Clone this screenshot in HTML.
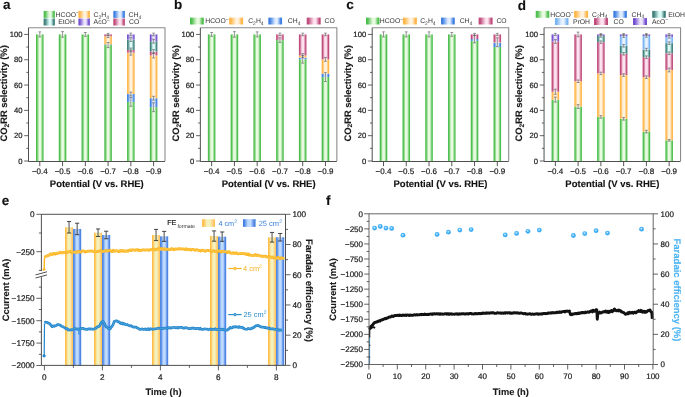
<!DOCTYPE html><html><head><meta charset="utf-8"><title>Figure</title><style>html,body{margin:0;padding:0;background:#fff;}body{width:685px;height:397px;overflow:hidden;}svg{display:block;}body{will-change:transform;font-family:"Liberation Sans",sans-serif;}</style></head><body><svg width="685" height="397" viewBox="0 0 685 397" font-family='"Liberation Sans", sans-serif' text-rendering="geometricPrecision"><defs><linearGradient id="g-green" x1="0" x2="1" y1="0" y2="0"><stop offset="0" stop-color="#4fbf4f"/><stop offset="0.11" stop-color="#4fbf4f"/><stop offset="0.27" stop-color="#9cdd98"/><stop offset="0.4" stop-color="#e8fbe0"/><stop offset="0.62" stop-color="#e8fbe0"/><stop offset="0.76" stop-color="#9cdd98"/><stop offset="0.9" stop-color="#4fbf4f"/><stop offset="1" stop-color="#4fbf4f"/></linearGradient><linearGradient id="s-green" x1="0" x2="1" y1="0" y2="0"><stop offset="0" stop-color="#4fbf4f"/><stop offset="0.12" stop-color="#4fbf4f"/><stop offset="0.5" stop-color="#e8fbe0"/><stop offset="0.66" stop-color="#e8fbe0"/><stop offset="0.9" stop-color="#4fbf4f"/><stop offset="1" stop-color="#4fbf4f"/></linearGradient><linearGradient id="g-orange" x1="0" x2="1" y1="0" y2="0"><stop offset="0" stop-color="#ffb648"/><stop offset="0.11" stop-color="#ffb648"/><stop offset="0.27" stop-color="#ffd494"/><stop offset="0.4" stop-color="#fff3e0"/><stop offset="0.62" stop-color="#fff3e0"/><stop offset="0.76" stop-color="#ffd494"/><stop offset="0.9" stop-color="#ffb648"/><stop offset="1" stop-color="#ffb648"/></linearGradient><linearGradient id="s-orange" x1="0" x2="1" y1="0" y2="0"><stop offset="0" stop-color="#ffb648"/><stop offset="0.12" stop-color="#ffb648"/><stop offset="0.5" stop-color="#fff3e0"/><stop offset="0.66" stop-color="#fff3e0"/><stop offset="0.9" stop-color="#ffb648"/><stop offset="1" stop-color="#ffb648"/></linearGradient><linearGradient id="g-blue" x1="0" x2="1" y1="0" y2="0"><stop offset="0" stop-color="#3f80e2"/><stop offset="0.11" stop-color="#3f80e2"/><stop offset="0.27" stop-color="#90b6f0"/><stop offset="0.4" stop-color="#e0ecff"/><stop offset="0.62" stop-color="#e0ecff"/><stop offset="0.76" stop-color="#90b6f0"/><stop offset="0.9" stop-color="#3f80e2"/><stop offset="1" stop-color="#3f80e2"/></linearGradient><linearGradient id="s-blue" x1="0" x2="1" y1="0" y2="0"><stop offset="0" stop-color="#3f80e2"/><stop offset="0.12" stop-color="#3f80e2"/><stop offset="0.5" stop-color="#e0ecff"/><stop offset="0.66" stop-color="#e0ecff"/><stop offset="0.9" stop-color="#3f80e2"/><stop offset="1" stop-color="#3f80e2"/></linearGradient><linearGradient id="g-crim" x1="0" x2="1" y1="0" y2="0"><stop offset="0" stop-color="#c04c7c"/><stop offset="0.11" stop-color="#c04c7c"/><stop offset="0.27" stop-color="#de98b6"/><stop offset="0.4" stop-color="#fde3ef"/><stop offset="0.62" stop-color="#fde3ef"/><stop offset="0.76" stop-color="#de98b6"/><stop offset="0.9" stop-color="#c04c7c"/><stop offset="1" stop-color="#c04c7c"/></linearGradient><linearGradient id="s-crim" x1="0" x2="1" y1="0" y2="0"><stop offset="0" stop-color="#c04c7c"/><stop offset="0.12" stop-color="#c04c7c"/><stop offset="0.5" stop-color="#fde3ef"/><stop offset="0.66" stop-color="#fde3ef"/><stop offset="0.9" stop-color="#c04c7c"/><stop offset="1" stop-color="#c04c7c"/></linearGradient><linearGradient id="g-teal" x1="0" x2="1" y1="0" y2="0"><stop offset="0" stop-color="#3f7f7a"/><stop offset="0.11" stop-color="#3f7f7a"/><stop offset="0.27" stop-color="#8ebdb9"/><stop offset="0.4" stop-color="#dcfbf8"/><stop offset="0.62" stop-color="#dcfbf8"/><stop offset="0.76" stop-color="#8ebdb9"/><stop offset="0.9" stop-color="#3f7f7a"/><stop offset="1" stop-color="#3f7f7a"/></linearGradient><linearGradient id="s-teal" x1="0" x2="1" y1="0" y2="0"><stop offset="0" stop-color="#3f7f7a"/><stop offset="0.12" stop-color="#3f7f7a"/><stop offset="0.5" stop-color="#dcfbf8"/><stop offset="0.66" stop-color="#dcfbf8"/><stop offset="0.9" stop-color="#3f7f7a"/><stop offset="1" stop-color="#3f7f7a"/></linearGradient><linearGradient id="g-purp" x1="0" x2="1" y1="0" y2="0"><stop offset="0" stop-color="#7450d0"/><stop offset="0.11" stop-color="#7450d0"/><stop offset="0.27" stop-color="#b09ae6"/><stop offset="0.4" stop-color="#ebe4fb"/><stop offset="0.62" stop-color="#ebe4fb"/><stop offset="0.76" stop-color="#b09ae6"/><stop offset="0.9" stop-color="#7450d0"/><stop offset="1" stop-color="#7450d0"/></linearGradient><linearGradient id="s-purp" x1="0" x2="1" y1="0" y2="0"><stop offset="0" stop-color="#7450d0"/><stop offset="0.12" stop-color="#7450d0"/><stop offset="0.5" stop-color="#ebe4fb"/><stop offset="0.66" stop-color="#ebe4fb"/><stop offset="0.9" stop-color="#7450d0"/><stop offset="1" stop-color="#7450d0"/></linearGradient><linearGradient id="g-lblue" x1="0" x2="1" y1="0" y2="0"><stop offset="0" stop-color="#78b4f0"/><stop offset="0.11" stop-color="#78b4f0"/><stop offset="0.27" stop-color="#afd3f8"/><stop offset="0.4" stop-color="#e6f2ff"/><stop offset="0.62" stop-color="#e6f2ff"/><stop offset="0.76" stop-color="#afd3f8"/><stop offset="0.9" stop-color="#78b4f0"/><stop offset="1" stop-color="#78b4f0"/></linearGradient><linearGradient id="s-lblue" x1="0" x2="1" y1="0" y2="0"><stop offset="0" stop-color="#78b4f0"/><stop offset="0.12" stop-color="#78b4f0"/><stop offset="0.5" stop-color="#e6f2ff"/><stop offset="0.66" stop-color="#e6f2ff"/><stop offset="0.9" stop-color="#78b4f0"/><stop offset="1" stop-color="#78b4f0"/></linearGradient><linearGradient id="e-yel" x1="0" x2="1"><stop offset="0" stop-color="#fdbb40"/><stop offset="0.15" stop-color="#ffc45a"/><stop offset="0.35" stop-color="#f5efb5"/><stop offset="0.6" stop-color="#f2f3c0"/><stop offset="0.8" stop-color="#fdd488"/><stop offset="1" stop-color="#ffbf4c"/></linearGradient><linearGradient id="e-blu" x1="0" x2="1"><stop offset="0" stop-color="#3574e0"/><stop offset="0.15" stop-color="#5a90e8"/><stop offset="0.38" stop-color="#bcd8fe"/><stop offset="0.62" stop-color="#c0dcff"/><stop offset="0.85" stop-color="#5a8ce8"/><stop offset="1" stop-color="#3f7ee0"/></linearGradient><radialGradient id="dot" cx="0.45" cy="0.4" r="0.6"><stop offset="0" stop-color="#ffffff"/><stop offset="0.18" stop-color="#9ad6ff"/><stop offset="0.5" stop-color="#45b2f6"/><stop offset="1" stop-color="#38a6ee"/></radialGradient></defs><rect width="685" height="397" fill="#fff"/><rect x="36.00" y="34.40" width="7.6" height="126.60" fill="url(#g-green)"/><rect x="58.76" y="34.40" width="7.6" height="126.60" fill="url(#g-green)"/><rect x="81.52" y="34.40" width="7.6" height="126.60" fill="url(#g-green)"/><rect x="104.28" y="45.03" width="7.6" height="115.97" fill="url(#g-green)"/><rect x="104.28" y="44.40" width="7.6" height="0.63" fill="url(#g-blue)"/><rect x="104.28" y="36.30" width="7.6" height="8.10" fill="url(#g-orange)"/><rect x="104.28" y="34.40" width="7.6" height="1.90" fill="url(#g-crim)"/><rect x="127.04" y="101.88" width="7.6" height="59.12" fill="url(#g-green)"/><rect x="127.04" y="94.03" width="7.6" height="7.85" fill="url(#g-blue)"/><rect x="127.04" y="52.63" width="7.6" height="41.40" fill="url(#g-orange)"/><rect x="127.04" y="49.97" width="7.6" height="2.66" fill="url(#g-crim)"/><rect x="127.04" y="39.59" width="7.6" height="10.38" fill="url(#g-teal)"/><rect x="127.04" y="34.40" width="7.6" height="5.19" fill="url(#g-purp)"/><rect x="149.80" y="107.19" width="7.6" height="53.81" fill="url(#g-green)"/><rect x="149.80" y="98.21" width="7.6" height="8.99" fill="url(#g-blue)"/><rect x="149.80" y="55.42" width="7.6" height="42.79" fill="url(#g-orange)"/><rect x="149.80" y="51.49" width="7.6" height="3.92" fill="url(#g-crim)"/><rect x="149.80" y="41.24" width="7.6" height="10.25" fill="url(#g-teal)"/><rect x="149.80" y="34.40" width="7.6" height="6.84" fill="url(#g-purp)"/><path d="M38.40 31.87H41.20M39.80 31.87V36.93M38.40 36.93H41.20" stroke="#555" stroke-width="0.6" fill="none"/><path d="M61.16 31.61H63.96M62.56 31.61V37.19M61.16 37.19H63.96" stroke="#555" stroke-width="0.6" fill="none"/><path d="M83.92 32.50H86.72M85.32 32.50V36.30M83.92 36.30H86.72" stroke="#555" stroke-width="0.6" fill="none"/><path d="M106.68 42.50H109.48M108.08 42.50V47.57M106.68 47.57H109.48" stroke="#555" stroke-width="0.6" fill="none"/><path d="M106.68 35.03H109.48M108.08 35.03V37.56M106.68 37.56H109.48" stroke="#555" stroke-width="0.6" fill="none"/><path d="M106.68 33.39H109.48M108.08 33.39V35.41M106.68 35.41H109.48" stroke="#555" stroke-width="0.6" fill="none"/><path d="M129.44 97.45H132.24M130.84 97.45V106.31M129.44 106.31H132.24" stroke="#555" stroke-width="0.6" fill="none"/><path d="M129.44 92.13H132.24M130.84 92.13V95.93M129.44 95.93H132.24" stroke="#555" stroke-width="0.6" fill="none"/><path d="M129.44 50.10H132.24M130.84 50.10V55.16M129.44 55.16H132.24" stroke="#555" stroke-width="0.6" fill="none"/><path d="M129.44 48.07H132.24M130.84 48.07V51.87M129.44 51.87H132.24" stroke="#555" stroke-width="0.6" fill="none"/><path d="M129.44 37.69H132.24M130.84 37.69V41.49M129.44 41.49H132.24" stroke="#555" stroke-width="0.6" fill="none"/><path d="M129.44 33.13H132.24M130.84 33.13V35.67M129.44 35.67H132.24" stroke="#555" stroke-width="0.6" fill="none"/><path d="M152.20 102.76H155.00M153.60 102.76V111.63M152.20 111.63H155.00" stroke="#555" stroke-width="0.6" fill="none"/><path d="M152.20 96.31H155.00M153.60 96.31V100.11M152.20 100.11H155.00" stroke="#555" stroke-width="0.6" fill="none"/><path d="M152.20 52.88H155.00M153.60 52.88V57.95M152.20 57.95H155.00" stroke="#555" stroke-width="0.6" fill="none"/><path d="M152.20 49.59H155.00M153.60 49.59V53.39M152.20 53.39H155.00" stroke="#555" stroke-width="0.6" fill="none"/><path d="M152.20 39.34H155.00M153.60 39.34V43.14M152.20 43.14H155.00" stroke="#555" stroke-width="0.6" fill="none"/><path d="M152.20 33.13H155.00M153.60 33.13V35.67M152.20 35.67H155.00" stroke="#555" stroke-width="0.6" fill="none"/><path d="M28.50 27.8H165.00V161.0" stroke="#8c8c8c" stroke-width="1.1" fill="none"/><path d="M28.50 27.8V161.5H165.00" stroke="#3c3c3c" stroke-width="0.9" fill="none"/><path d="M24.20 161.00H28.50" stroke="#3c3c3c" stroke-width="0.8"/><text x="22.50" y="163.70" text-anchor="end" font-size="7.7" fill="#1a1a1a" stroke="#1a1a1a" stroke-width="0.2">0</text><path d="M26.30 148.34H28.50" stroke="#3c3c3c" stroke-width="0.8"/><path d="M24.20 135.68H28.50" stroke="#3c3c3c" stroke-width="0.8"/><text x="22.50" y="138.38" text-anchor="end" font-size="7.7" fill="#1a1a1a" stroke="#1a1a1a" stroke-width="0.2">20</text><path d="M26.30 123.02H28.50" stroke="#3c3c3c" stroke-width="0.8"/><path d="M24.20 110.36H28.50" stroke="#3c3c3c" stroke-width="0.8"/><text x="22.50" y="113.06" text-anchor="end" font-size="7.7" fill="#1a1a1a" stroke="#1a1a1a" stroke-width="0.2">40</text><path d="M26.30 97.70H28.50" stroke="#3c3c3c" stroke-width="0.8"/><path d="M24.20 85.04H28.50" stroke="#3c3c3c" stroke-width="0.8"/><text x="22.50" y="87.74" text-anchor="end" font-size="7.7" fill="#1a1a1a" stroke="#1a1a1a" stroke-width="0.2">60</text><path d="M26.30 72.38H28.50" stroke="#3c3c3c" stroke-width="0.8"/><path d="M24.20 59.72H28.50" stroke="#3c3c3c" stroke-width="0.8"/><text x="22.50" y="62.42" text-anchor="end" font-size="7.7" fill="#1a1a1a" stroke="#1a1a1a" stroke-width="0.2">80</text><path d="M26.30 47.06H28.50" stroke="#3c3c3c" stroke-width="0.8"/><path d="M24.20 34.40H28.50" stroke="#3c3c3c" stroke-width="0.8"/><text x="22.50" y="37.10" text-anchor="end" font-size="7.7" fill="#1a1a1a" stroke="#1a1a1a" stroke-width="0.2">100</text><path d="M39.80 161.5V166.20" stroke="#444" stroke-width="0.9"/><text x="39.80" y="174.1" text-anchor="middle" font-size="8.0" fill="#1a1a1a" stroke="#1a1a1a" stroke-width="0.2">−0.4</text><path d="M62.56 161.5V166.20" stroke="#444" stroke-width="0.9"/><text x="62.56" y="174.1" text-anchor="middle" font-size="8.0" fill="#1a1a1a" stroke="#1a1a1a" stroke-width="0.2">−0.5</text><path d="M85.32 161.5V166.20" stroke="#444" stroke-width="0.9"/><text x="85.32" y="174.1" text-anchor="middle" font-size="8.0" fill="#1a1a1a" stroke="#1a1a1a" stroke-width="0.2">−0.6</text><path d="M108.08 161.5V166.20" stroke="#444" stroke-width="0.9"/><text x="108.08" y="174.1" text-anchor="middle" font-size="8.0" fill="#1a1a1a" stroke="#1a1a1a" stroke-width="0.2">−0.7</text><path d="M130.84 161.5V166.20" stroke="#444" stroke-width="0.9"/><text x="130.84" y="174.1" text-anchor="middle" font-size="8.0" fill="#1a1a1a" stroke="#1a1a1a" stroke-width="0.2">−0.8</text><path d="M153.60 161.5V166.20" stroke="#444" stroke-width="0.9"/><text x="153.60" y="174.1" text-anchor="middle" font-size="8.0" fill="#1a1a1a" stroke="#1a1a1a" stroke-width="0.2">−0.9</text><text x="96.80" y="187.0" text-anchor="middle" font-size="9.5" font-weight="bold" fill="#111" stroke="#111" stroke-width="0.12">Potential (V vs. RHE)</text><text transform="translate(6.90,93.4) rotate(-90)" text-anchor="middle" font-size="9.4" font-weight="bold" fill="#1a1a1a" stroke="#1a1a1a" stroke-width="0.12">CO<tspan dy="1.8" font-size="6.6">2</tspan><tspan dy="-1.8">RR selectivity (%)</tspan></text><rect x="43.6" y="10.9" width="11.3" height="7.0" fill="url(#s-green)"/><text class="nb" x="55.6" y="16.60" font-size="6.8" fill="#333">HCOO<tspan dy="-2.3" font-size="5">−</tspan></text><rect x="43.6" y="18.5" width="11.3" height="7.0" fill="url(#s-teal)"/><text class="nb" x="58.2" y="24.20" font-size="6.8" fill="#333">EtOH</text><rect x="78.4" y="10.9" width="11.5" height="7.0" fill="url(#s-orange)"/><text class="nb" x="93.6" y="16.60" font-size="6.8" fill="#333">C<tspan dy="1.9" font-size="5">2</tspan><tspan dy="-1.9">H</tspan><tspan dy="1.9" font-size="5">4</tspan></text><rect x="78.4" y="18.5" width="11.5" height="7.0" fill="url(#s-purp)"/><text class="nb" x="93.6" y="24.20" font-size="6.8" fill="#333">AcO<tspan dy="-2.3" font-size="5">−</tspan></text><rect x="113.3" y="10.9" width="11.6" height="7.0" fill="url(#s-blue)"/><text class="nb" x="128.6" y="16.60" font-size="6.8" fill="#333">CH<tspan dy="1.9" font-size="5">4</tspan></text><rect x="113.3" y="18.5" width="11.6" height="7.0" fill="url(#s-crim)"/><text class="nb" x="129.0" y="24.20" font-size="6.8" fill="#333">CO</text><rect x="207.85" y="34.40" width="7.6" height="126.60" fill="url(#g-green)"/><rect x="230.61" y="34.40" width="7.6" height="126.60" fill="url(#g-green)"/><rect x="253.37" y="34.40" width="7.6" height="126.60" fill="url(#g-green)"/><rect x="276.13" y="40.10" width="7.6" height="120.90" fill="url(#g-green)"/><rect x="276.13" y="34.40" width="7.6" height="5.70" fill="url(#g-crim)"/><rect x="298.89" y="59.34" width="7.6" height="101.66" fill="url(#g-green)"/><rect x="298.89" y="57.69" width="7.6" height="1.65" fill="url(#g-blue)"/><rect x="298.89" y="55.54" width="7.6" height="2.15" fill="url(#g-orange)"/><rect x="298.89" y="34.40" width="7.6" height="21.14" fill="url(#g-crim)"/><rect x="321.65" y="77.06" width="7.6" height="83.94" fill="url(#g-green)"/><rect x="321.65" y="73.65" width="7.6" height="3.42" fill="url(#g-blue)"/><rect x="321.65" y="59.34" width="7.6" height="14.31" fill="url(#g-orange)"/><rect x="321.65" y="34.40" width="7.6" height="24.94" fill="url(#g-crim)"/><path d="M210.25 32.50H213.05M211.65 32.50V36.30M210.25 36.30H213.05" stroke="#555" stroke-width="0.6" fill="none"/><path d="M233.01 31.61H235.81M234.41 31.61V37.19M233.01 37.19H235.81" stroke="#555" stroke-width="0.6" fill="none"/><path d="M255.77 31.87H258.57M257.17 31.87V36.93M255.77 36.93H258.57" stroke="#555" stroke-width="0.6" fill="none"/><path d="M278.53 37.82H281.33M279.93 37.82V42.38M278.53 42.38H281.33" stroke="#555" stroke-width="0.6" fill="none"/><path d="M278.53 33.13H281.33M279.93 33.13V35.67M278.53 35.67H281.33" stroke="#555" stroke-width="0.6" fill="none"/><path d="M301.29 55.54H304.09M302.69 55.54V63.14M301.29 63.14H304.09" stroke="#555" stroke-width="0.6" fill="none"/><path d="M301.29 53.64H304.09M302.69 53.64V57.44M301.29 57.44H304.09" stroke="#555" stroke-width="0.6" fill="none"/><path d="M301.29 33.13H304.09M302.69 33.13V35.67M301.29 35.67H304.09" stroke="#555" stroke-width="0.6" fill="none"/><path d="M324.05 72.63H326.85M325.45 72.63V81.50M324.05 81.50H326.85" stroke="#555" stroke-width="0.6" fill="none"/><path d="M324.05 57.44H326.85M325.45 57.44V61.24M324.05 61.24H326.85" stroke="#555" stroke-width="0.6" fill="none"/><path d="M324.05 33.13H326.85M325.45 33.13V35.67M324.05 35.67H326.85" stroke="#555" stroke-width="0.6" fill="none"/><path d="M200.35 27.8H336.85V161.0" stroke="#8c8c8c" stroke-width="1.1" fill="none"/><path d="M200.35 27.8V161.5H336.85" stroke="#3c3c3c" stroke-width="0.9" fill="none"/><path d="M196.05 161.00H200.35" stroke="#3c3c3c" stroke-width="0.8"/><text x="194.35" y="163.70" text-anchor="end" font-size="7.7" fill="#1a1a1a" stroke="#1a1a1a" stroke-width="0.2">0</text><path d="M198.15 148.34H200.35" stroke="#3c3c3c" stroke-width="0.8"/><path d="M196.05 135.68H200.35" stroke="#3c3c3c" stroke-width="0.8"/><text x="194.35" y="138.38" text-anchor="end" font-size="7.7" fill="#1a1a1a" stroke="#1a1a1a" stroke-width="0.2">20</text><path d="M198.15 123.02H200.35" stroke="#3c3c3c" stroke-width="0.8"/><path d="M196.05 110.36H200.35" stroke="#3c3c3c" stroke-width="0.8"/><text x="194.35" y="113.06" text-anchor="end" font-size="7.7" fill="#1a1a1a" stroke="#1a1a1a" stroke-width="0.2">40</text><path d="M198.15 97.70H200.35" stroke="#3c3c3c" stroke-width="0.8"/><path d="M196.05 85.04H200.35" stroke="#3c3c3c" stroke-width="0.8"/><text x="194.35" y="87.74" text-anchor="end" font-size="7.7" fill="#1a1a1a" stroke="#1a1a1a" stroke-width="0.2">60</text><path d="M198.15 72.38H200.35" stroke="#3c3c3c" stroke-width="0.8"/><path d="M196.05 59.72H200.35" stroke="#3c3c3c" stroke-width="0.8"/><text x="194.35" y="62.42" text-anchor="end" font-size="7.7" fill="#1a1a1a" stroke="#1a1a1a" stroke-width="0.2">80</text><path d="M198.15 47.06H200.35" stroke="#3c3c3c" stroke-width="0.8"/><path d="M196.05 34.40H200.35" stroke="#3c3c3c" stroke-width="0.8"/><text x="194.35" y="37.10" text-anchor="end" font-size="7.7" fill="#1a1a1a" stroke="#1a1a1a" stroke-width="0.2">100</text><path d="M211.65 161.5V166.20" stroke="#444" stroke-width="0.9"/><text x="211.65" y="174.1" text-anchor="middle" font-size="8.0" fill="#1a1a1a" stroke="#1a1a1a" stroke-width="0.2">−0.4</text><path d="M234.41 161.5V166.20" stroke="#444" stroke-width="0.9"/><text x="234.41" y="174.1" text-anchor="middle" font-size="8.0" fill="#1a1a1a" stroke="#1a1a1a" stroke-width="0.2">−0.5</text><path d="M257.17 161.5V166.20" stroke="#444" stroke-width="0.9"/><text x="257.17" y="174.1" text-anchor="middle" font-size="8.0" fill="#1a1a1a" stroke="#1a1a1a" stroke-width="0.2">−0.6</text><path d="M279.93 161.5V166.20" stroke="#444" stroke-width="0.9"/><text x="279.93" y="174.1" text-anchor="middle" font-size="8.0" fill="#1a1a1a" stroke="#1a1a1a" stroke-width="0.2">−0.7</text><path d="M302.69 161.5V166.20" stroke="#444" stroke-width="0.9"/><text x="302.69" y="174.1" text-anchor="middle" font-size="8.0" fill="#1a1a1a" stroke="#1a1a1a" stroke-width="0.2">−0.8</text><path d="M325.45 161.5V166.20" stroke="#444" stroke-width="0.9"/><text x="325.45" y="174.1" text-anchor="middle" font-size="8.0" fill="#1a1a1a" stroke="#1a1a1a" stroke-width="0.2">−0.9</text><text x="268.65" y="187.0" text-anchor="middle" font-size="9.5" font-weight="bold" fill="#111" stroke="#111" stroke-width="0.12">Potential (V vs. RHE)</text><text transform="translate(178.75,93.4) rotate(-90)" text-anchor="middle" font-size="9.4" font-weight="bold" fill="#1a1a1a" stroke="#1a1a1a" stroke-width="0.12">CO<tspan dy="1.8" font-size="6.6">2</tspan><tspan dy="-1.8">RR selectivity (%)</tspan></text><rect x="190.0" y="17.6" width="13.8" height="6.9" fill="url(#s-green)"/><text class="nb" x="205.3" y="23.20" font-size="6.8" fill="#333">HCOO<tspan dy="-2.3" font-size="5">−</tspan></text><rect x="229.1" y="17.6" width="14.0" height="6.9" fill="url(#s-orange)"/><text class="nb" x="248.2" y="23.20" font-size="6.8" fill="#333">C<tspan dy="1.9" font-size="5">2</tspan><tspan dy="-1.9">H</tspan><tspan dy="1.9" font-size="5">4</tspan></text><rect x="268.3" y="17.6" width="13.8" height="6.9" fill="url(#s-blue)"/><text class="nb" x="287.8" y="23.20" font-size="6.8" fill="#333">CH<tspan dy="1.9" font-size="5">4</tspan></text><rect x="306.7" y="17.6" width="14.0" height="6.9" fill="url(#s-crim)"/><text class="nb" x="324.6" y="23.20" font-size="6.8" fill="#333">CO</text><rect x="379.70" y="34.40" width="7.6" height="126.60" fill="url(#g-green)"/><rect x="402.46" y="34.40" width="7.6" height="126.60" fill="url(#g-green)"/><rect x="425.22" y="34.40" width="7.6" height="126.60" fill="url(#g-green)"/><rect x="447.98" y="34.40" width="7.6" height="126.60" fill="url(#g-green)"/><rect x="470.74" y="40.73" width="7.6" height="120.27" fill="url(#g-green)"/><rect x="470.74" y="39.08" width="7.6" height="1.65" fill="url(#g-blue)"/><rect x="470.74" y="34.40" width="7.6" height="4.68" fill="url(#g-crim)"/><rect x="493.50" y="47.06" width="7.6" height="113.94" fill="url(#g-green)"/><rect x="493.50" y="42.63" width="7.6" height="4.43" fill="url(#g-blue)"/><rect x="493.50" y="42.25" width="7.6" height="0.38" fill="url(#g-orange)"/><rect x="493.50" y="34.40" width="7.6" height="7.85" fill="url(#g-crim)"/><path d="M382.10 31.87H384.90M383.50 31.87V36.93M382.10 36.93H384.90" stroke="#555" stroke-width="0.6" fill="none"/><path d="M404.86 31.87H407.66M406.26 31.87V36.93M404.86 36.93H407.66" stroke="#555" stroke-width="0.6" fill="none"/><path d="M427.62 31.87H430.42M429.02 31.87V36.93M427.62 36.93H430.42" stroke="#555" stroke-width="0.6" fill="none"/><path d="M450.38 32.50H453.18M451.78 32.50V36.30M450.38 36.30H453.18" stroke="#555" stroke-width="0.6" fill="none"/><path d="M473.14 35.29H475.94M474.54 35.29V42.88M473.14 42.88H475.94" stroke="#555" stroke-width="0.6" fill="none"/><path d="M473.14 33.39H475.94M474.54 33.39V35.41M473.14 35.41H475.94" stroke="#555" stroke-width="0.6" fill="none"/><path d="M495.90 37.82H498.70M497.30 37.82V46.68M495.90 46.68H498.70" stroke="#555" stroke-width="0.6" fill="none"/><path d="M495.90 33.39H498.70M497.30 33.39V35.41M495.90 35.41H498.70" stroke="#555" stroke-width="0.6" fill="none"/><path d="M372.20 27.8H508.70V161.0" stroke="#8c8c8c" stroke-width="1.1" fill="none"/><path d="M372.20 27.8V161.5H508.70" stroke="#3c3c3c" stroke-width="0.9" fill="none"/><path d="M367.90 161.00H372.20" stroke="#3c3c3c" stroke-width="0.8"/><text x="366.20" y="163.70" text-anchor="end" font-size="7.7" fill="#1a1a1a" stroke="#1a1a1a" stroke-width="0.2">0</text><path d="M370.00 148.34H372.20" stroke="#3c3c3c" stroke-width="0.8"/><path d="M367.90 135.68H372.20" stroke="#3c3c3c" stroke-width="0.8"/><text x="366.20" y="138.38" text-anchor="end" font-size="7.7" fill="#1a1a1a" stroke="#1a1a1a" stroke-width="0.2">20</text><path d="M370.00 123.02H372.20" stroke="#3c3c3c" stroke-width="0.8"/><path d="M367.90 110.36H372.20" stroke="#3c3c3c" stroke-width="0.8"/><text x="366.20" y="113.06" text-anchor="end" font-size="7.7" fill="#1a1a1a" stroke="#1a1a1a" stroke-width="0.2">40</text><path d="M370.00 97.70H372.20" stroke="#3c3c3c" stroke-width="0.8"/><path d="M367.90 85.04H372.20" stroke="#3c3c3c" stroke-width="0.8"/><text x="366.20" y="87.74" text-anchor="end" font-size="7.7" fill="#1a1a1a" stroke="#1a1a1a" stroke-width="0.2">60</text><path d="M370.00 72.38H372.20" stroke="#3c3c3c" stroke-width="0.8"/><path d="M367.90 59.72H372.20" stroke="#3c3c3c" stroke-width="0.8"/><text x="366.20" y="62.42" text-anchor="end" font-size="7.7" fill="#1a1a1a" stroke="#1a1a1a" stroke-width="0.2">80</text><path d="M370.00 47.06H372.20" stroke="#3c3c3c" stroke-width="0.8"/><path d="M367.90 34.40H372.20" stroke="#3c3c3c" stroke-width="0.8"/><text x="366.20" y="37.10" text-anchor="end" font-size="7.7" fill="#1a1a1a" stroke="#1a1a1a" stroke-width="0.2">100</text><path d="M383.50 161.5V166.20" stroke="#444" stroke-width="0.9"/><text x="383.50" y="174.1" text-anchor="middle" font-size="8.0" fill="#1a1a1a" stroke="#1a1a1a" stroke-width="0.2">−0.4</text><path d="M406.26 161.5V166.20" stroke="#444" stroke-width="0.9"/><text x="406.26" y="174.1" text-anchor="middle" font-size="8.0" fill="#1a1a1a" stroke="#1a1a1a" stroke-width="0.2">−0.5</text><path d="M429.02 161.5V166.20" stroke="#444" stroke-width="0.9"/><text x="429.02" y="174.1" text-anchor="middle" font-size="8.0" fill="#1a1a1a" stroke="#1a1a1a" stroke-width="0.2">−0.6</text><path d="M451.78 161.5V166.20" stroke="#444" stroke-width="0.9"/><text x="451.78" y="174.1" text-anchor="middle" font-size="8.0" fill="#1a1a1a" stroke="#1a1a1a" stroke-width="0.2">−0.7</text><path d="M474.54 161.5V166.20" stroke="#444" stroke-width="0.9"/><text x="474.54" y="174.1" text-anchor="middle" font-size="8.0" fill="#1a1a1a" stroke="#1a1a1a" stroke-width="0.2">−0.8</text><path d="M497.30 161.5V166.20" stroke="#444" stroke-width="0.9"/><text x="497.30" y="174.1" text-anchor="middle" font-size="8.0" fill="#1a1a1a" stroke="#1a1a1a" stroke-width="0.2">−0.9</text><text x="440.50" y="187.0" text-anchor="middle" font-size="9.5" font-weight="bold" fill="#111" stroke="#111" stroke-width="0.12">Potential (V vs. RHE)</text><text transform="translate(350.60,93.4) rotate(-90)" text-anchor="middle" font-size="9.4" font-weight="bold" fill="#1a1a1a" stroke="#1a1a1a" stroke-width="0.12">CO<tspan dy="1.8" font-size="6.6">2</tspan><tspan dy="-1.8">RR selectivity (%)</tspan></text><rect x="366.0" y="17.6" width="13.5" height="6.9" fill="url(#s-green)"/><text class="nb" x="379.8" y="23.20" font-size="6.8" fill="#333">HCOO<tspan dy="-2.3" font-size="5">−</tspan></text><rect x="402.9" y="17.6" width="14.0" height="6.9" fill="url(#s-orange)"/><text class="nb" x="420.2" y="23.20" font-size="6.8" fill="#333">C<tspan dy="1.9" font-size="5">2</tspan><tspan dy="-1.9">H</tspan><tspan dy="1.9" font-size="5">4</tspan></text><rect x="441.0" y="17.6" width="13.8" height="6.9" fill="url(#s-blue)"/><text class="nb" x="459.7" y="23.20" font-size="6.8" fill="#333">CH<tspan dy="1.9" font-size="5">4</tspan></text><rect x="478.6" y="17.6" width="14.0" height="6.9" fill="url(#s-crim)"/><text class="nb" x="496.4" y="23.20" font-size="6.8" fill="#333">CO</text><rect x="551.55" y="99.60" width="7.6" height="61.40" fill="url(#g-green)"/><rect x="551.55" y="91.75" width="7.6" height="7.85" fill="url(#g-orange)"/><rect x="551.55" y="41.49" width="7.6" height="50.26" fill="url(#g-crim)"/><rect x="551.55" y="34.40" width="7.6" height="7.09" fill="url(#g-purp)"/><rect x="574.31" y="106.56" width="7.6" height="54.44" fill="url(#g-green)"/><rect x="574.31" y="81.24" width="7.6" height="25.32" fill="url(#g-orange)"/><rect x="574.31" y="34.40" width="7.6" height="46.84" fill="url(#g-crim)"/><rect x="597.07" y="116.94" width="7.6" height="44.06" fill="url(#g-green)"/><rect x="597.07" y="73.39" width="7.6" height="43.55" fill="url(#g-orange)"/><rect x="597.07" y="42.12" width="7.6" height="31.27" fill="url(#g-crim)"/><rect x="597.07" y="35.92" width="7.6" height="6.20" fill="url(#g-teal)"/><rect x="597.07" y="34.40" width="7.6" height="1.52" fill="url(#g-purp)"/><rect x="619.83" y="118.84" width="7.6" height="42.16" fill="url(#g-green)"/><rect x="619.83" y="75.04" width="7.6" height="43.80" fill="url(#g-orange)"/><rect x="619.83" y="53.77" width="7.6" height="21.27" fill="url(#g-crim)"/><rect x="619.83" y="45.79" width="7.6" height="7.98" fill="url(#g-teal)"/><rect x="619.83" y="36.17" width="7.6" height="9.62" fill="url(#g-lblue)"/><rect x="619.83" y="34.40" width="7.6" height="1.77" fill="url(#g-purp)"/><rect x="642.59" y="131.63" width="7.6" height="29.37" fill="url(#g-green)"/><rect x="642.59" y="77.19" width="7.6" height="54.44" fill="url(#g-orange)"/><rect x="642.59" y="57.19" width="7.6" height="20.00" fill="url(#g-crim)"/><rect x="642.59" y="49.59" width="7.6" height="7.60" fill="url(#g-teal)"/><rect x="642.59" y="35.92" width="7.6" height="13.67" fill="url(#g-lblue)"/><rect x="642.59" y="34.40" width="7.6" height="1.52" fill="url(#g-purp)"/><rect x="665.35" y="140.36" width="7.6" height="20.64" fill="url(#g-green)"/><rect x="665.35" y="69.97" width="7.6" height="70.39" fill="url(#g-orange)"/><rect x="665.35" y="53.26" width="7.6" height="16.71" fill="url(#g-crim)"/><rect x="665.35" y="43.14" width="7.6" height="10.13" fill="url(#g-teal)"/><rect x="665.35" y="36.93" width="7.6" height="6.20" fill="url(#g-lblue)"/><rect x="665.35" y="34.40" width="7.6" height="2.53" fill="url(#g-purp)"/><path d="M553.95 97.07H556.75M555.35 97.07V102.13M553.95 102.13H556.75" stroke="#555" stroke-width="0.6" fill="none"/><path d="M553.95 89.22H556.75M555.35 89.22V94.28M553.95 94.28H556.75" stroke="#555" stroke-width="0.6" fill="none"/><path d="M553.95 39.59H556.75M555.35 39.59V43.39M553.95 43.39H556.75" stroke="#555" stroke-width="0.6" fill="none"/><path d="M553.95 33.39H556.75M555.35 33.39V35.41M553.95 35.41H556.75" stroke="#555" stroke-width="0.6" fill="none"/><path d="M576.71 104.66H579.51M578.11 104.66V108.46M576.71 108.46H579.51" stroke="#555" stroke-width="0.6" fill="none"/><path d="M576.71 79.98H579.51M578.11 79.98V82.51M576.71 82.51H579.51" stroke="#555" stroke-width="0.6" fill="none"/><path d="M576.71 32.12H579.51M578.11 32.12V36.68M576.71 36.68H579.51" stroke="#555" stroke-width="0.6" fill="none"/><path d="M599.47 115.68H602.27M600.87 115.68V118.21M599.47 118.21H602.27" stroke="#555" stroke-width="0.6" fill="none"/><path d="M599.47 72.13H602.27M600.87 72.13V74.66M599.47 74.66H602.27" stroke="#555" stroke-width="0.6" fill="none"/><path d="M599.47 40.86H602.27M600.87 40.86V43.39M599.47 43.39H602.27" stroke="#555" stroke-width="0.6" fill="none"/><path d="M599.47 34.65H602.27M600.87 34.65V37.19M599.47 37.19H602.27" stroke="#555" stroke-width="0.6" fill="none"/><path d="M599.47 33.64H602.27M600.87 33.64V35.16M599.47 35.16H602.27" stroke="#555" stroke-width="0.6" fill="none"/><path d="M622.23 117.58H625.03M623.63 117.58V120.11M622.23 120.11H625.03" stroke="#555" stroke-width="0.6" fill="none"/><path d="M622.23 73.77H625.03M623.63 73.77V76.30M622.23 76.30H625.03" stroke="#555" stroke-width="0.6" fill="none"/><path d="M622.23 52.50H625.03M623.63 52.50V55.04M622.23 55.04H625.03" stroke="#555" stroke-width="0.6" fill="none"/><path d="M622.23 44.53H625.03M623.63 44.53V47.06M622.23 47.06H625.03" stroke="#555" stroke-width="0.6" fill="none"/><path d="M622.23 34.91H625.03M623.63 34.91V37.44M622.23 37.44H625.03" stroke="#555" stroke-width="0.6" fill="none"/><path d="M622.23 33.64H625.03M623.63 33.64V35.16M622.23 35.16H625.03" stroke="#555" stroke-width="0.6" fill="none"/><path d="M644.99 130.36H647.79M646.39 130.36V132.89M644.99 132.89H647.79" stroke="#555" stroke-width="0.6" fill="none"/><path d="M644.99 75.92H647.79M646.39 75.92V78.46M644.99 78.46H647.79" stroke="#555" stroke-width="0.6" fill="none"/><path d="M644.99 55.92H647.79M646.39 55.92V58.45M644.99 58.45H647.79" stroke="#555" stroke-width="0.6" fill="none"/><path d="M644.99 48.33H647.79M646.39 48.33V50.86M644.99 50.86H647.79" stroke="#555" stroke-width="0.6" fill="none"/><path d="M644.99 34.65H647.79M646.39 34.65V37.19M644.99 37.19H647.79" stroke="#555" stroke-width="0.6" fill="none"/><path d="M644.99 33.64H647.79M646.39 33.64V35.16M644.99 35.16H647.79" stroke="#555" stroke-width="0.6" fill="none"/><path d="M667.75 139.60H670.55M669.15 139.60V141.12M667.75 141.12H670.55" stroke="#555" stroke-width="0.6" fill="none"/><path d="M667.75 68.08H670.55M669.15 68.08V71.87M667.75 71.87H670.55" stroke="#555" stroke-width="0.6" fill="none"/><path d="M667.75 52.00H670.55M669.15 52.00V54.53M667.75 54.53H670.55" stroke="#555" stroke-width="0.6" fill="none"/><path d="M667.75 41.87H670.55M669.15 41.87V44.40M667.75 44.40H670.55" stroke="#555" stroke-width="0.6" fill="none"/><path d="M667.75 35.67H670.55M669.15 35.67V38.20M667.75 38.20H670.55" stroke="#555" stroke-width="0.6" fill="none"/><path d="M667.75 33.64H670.55M669.15 33.64V35.16M667.75 35.16H670.55" stroke="#555" stroke-width="0.6" fill="none"/><path d="M544.05 27.8H680.55V161.0" stroke="#8c8c8c" stroke-width="1.1" fill="none"/><path d="M544.05 27.8V161.5H680.55" stroke="#3c3c3c" stroke-width="0.9" fill="none"/><path d="M539.75 161.00H544.05" stroke="#3c3c3c" stroke-width="0.8"/><text x="538.05" y="163.70" text-anchor="end" font-size="7.7" fill="#1a1a1a" stroke="#1a1a1a" stroke-width="0.2">0</text><path d="M541.85 148.34H544.05" stroke="#3c3c3c" stroke-width="0.8"/><path d="M539.75 135.68H544.05" stroke="#3c3c3c" stroke-width="0.8"/><text x="538.05" y="138.38" text-anchor="end" font-size="7.7" fill="#1a1a1a" stroke="#1a1a1a" stroke-width="0.2">20</text><path d="M541.85 123.02H544.05" stroke="#3c3c3c" stroke-width="0.8"/><path d="M539.75 110.36H544.05" stroke="#3c3c3c" stroke-width="0.8"/><text x="538.05" y="113.06" text-anchor="end" font-size="7.7" fill="#1a1a1a" stroke="#1a1a1a" stroke-width="0.2">40</text><path d="M541.85 97.70H544.05" stroke="#3c3c3c" stroke-width="0.8"/><path d="M539.75 85.04H544.05" stroke="#3c3c3c" stroke-width="0.8"/><text x="538.05" y="87.74" text-anchor="end" font-size="7.7" fill="#1a1a1a" stroke="#1a1a1a" stroke-width="0.2">60</text><path d="M541.85 72.38H544.05" stroke="#3c3c3c" stroke-width="0.8"/><path d="M539.75 59.72H544.05" stroke="#3c3c3c" stroke-width="0.8"/><text x="538.05" y="62.42" text-anchor="end" font-size="7.7" fill="#1a1a1a" stroke="#1a1a1a" stroke-width="0.2">80</text><path d="M541.85 47.06H544.05" stroke="#3c3c3c" stroke-width="0.8"/><path d="M539.75 34.40H544.05" stroke="#3c3c3c" stroke-width="0.8"/><text x="538.05" y="37.10" text-anchor="end" font-size="7.7" fill="#1a1a1a" stroke="#1a1a1a" stroke-width="0.2">100</text><path d="M555.35 161.5V166.20" stroke="#444" stroke-width="0.9"/><text x="555.35" y="174.1" text-anchor="middle" font-size="8.0" fill="#1a1a1a" stroke="#1a1a1a" stroke-width="0.2">−0.4</text><path d="M578.11 161.5V166.20" stroke="#444" stroke-width="0.9"/><text x="578.11" y="174.1" text-anchor="middle" font-size="8.0" fill="#1a1a1a" stroke="#1a1a1a" stroke-width="0.2">−0.5</text><path d="M600.87 161.5V166.20" stroke="#444" stroke-width="0.9"/><text x="600.87" y="174.1" text-anchor="middle" font-size="8.0" fill="#1a1a1a" stroke="#1a1a1a" stroke-width="0.2">−0.6</text><path d="M623.63 161.5V166.20" stroke="#444" stroke-width="0.9"/><text x="623.63" y="174.1" text-anchor="middle" font-size="8.0" fill="#1a1a1a" stroke="#1a1a1a" stroke-width="0.2">−0.7</text><path d="M646.39 161.5V166.20" stroke="#444" stroke-width="0.9"/><text x="646.39" y="174.1" text-anchor="middle" font-size="8.0" fill="#1a1a1a" stroke="#1a1a1a" stroke-width="0.2">−0.8</text><path d="M669.15 161.5V166.20" stroke="#444" stroke-width="0.9"/><text x="669.15" y="174.1" text-anchor="middle" font-size="8.0" fill="#1a1a1a" stroke="#1a1a1a" stroke-width="0.2">−0.9</text><text x="612.35" y="187.0" text-anchor="middle" font-size="9.5" font-weight="bold" fill="#111" stroke="#111" stroke-width="0.12">Potential (V vs. RHE)</text><text transform="translate(522.45,93.4) rotate(-90)" text-anchor="middle" font-size="9.4" font-weight="bold" fill="#1a1a1a" stroke="#1a1a1a" stroke-width="0.12">CO<tspan dy="1.8" font-size="6.6">2</tspan><tspan dy="-1.8">RR selectivity (%)</tspan></text><rect x="535.7" y="10.9" width="13.6" height="6.9" fill="url(#s-green)"/><text class="nb" x="550.3" y="16.50" font-size="6.8" fill="#333">HCOO<tspan dy="-2.3" font-size="5">−</tspan></text><rect x="574.1" y="10.9" width="14.0" height="6.9" fill="url(#s-orange)"/><text class="nb" x="592.0" y="16.50" font-size="6.8" fill="#333">C<tspan dy="1.9" font-size="5">2</tspan><tspan dy="-1.9">H</tspan><tspan dy="1.9" font-size="5">4</tspan></text><rect x="613.3" y="10.9" width="13.6" height="6.9" fill="url(#s-blue)"/><text class="nb" x="631.6" y="16.50" font-size="6.8" fill="#333">CH<tspan dy="1.9" font-size="5">4</tspan></text><rect x="652.2" y="10.9" width="13.6" height="6.9" fill="url(#s-teal)"/><text class="nb" x="668.3" y="16.50" font-size="6.8" fill="#333">EtOH</text><rect x="554.9" y="18.1" width="13.6" height="6.9" fill="url(#s-lblue)"/><text class="nb" x="573.0" y="23.70" font-size="6.8" fill="#333">PrOH</text><rect x="594.0" y="18.1" width="14.0" height="6.9" fill="url(#s-crim)"/><text class="nb" x="613.5" y="23.70" font-size="6.8" fill="#333">CO</text><rect x="633.0" y="18.1" width="14.0" height="6.9" fill="url(#s-purp)"/><text class="nb" x="652.0" y="23.70" font-size="6.8" fill="#333">AcO<tspan dy="-2.3" font-size="5">−</tspan></text><text x="2.9" y="9.25" font-size="13.5" font-weight="bold" fill="#111" stroke="#111" stroke-width="0.12">a</text><text x="174.1" y="9.4" font-size="13.5" font-weight="bold" fill="#111" stroke="#111" stroke-width="0.12">b</text><text x="346.2" y="9.4" font-size="13.5" font-weight="bold" fill="#111" stroke="#111" stroke-width="0.12">c</text><text x="517.8" y="9.5" font-size="13.5" font-weight="bold" fill="#111" stroke="#111" stroke-width="0.12">d</text><text x="1.8" y="205.0" font-size="13.5" font-weight="bold" fill="#111" stroke="#111" stroke-width="0.12">e</text><text x="326.0" y="205.0" font-size="13.5" font-weight="bold" fill="#111" stroke="#111" stroke-width="0.12">f</text><rect x="65.00" y="227.29" width="8.1" height="138.11" fill="url(#e-yel)"/><rect x="73.10" y="228.96" width="8.1" height="136.44" fill="url(#e-blu)"/><rect x="94.00" y="232.73" width="8.1" height="132.67" fill="url(#e-yel)"/><rect x="102.10" y="235.00" width="8.1" height="130.40" fill="url(#e-blu)"/><rect x="152.00" y="235.00" width="8.1" height="130.40" fill="url(#e-yel)"/><rect x="160.10" y="236.36" width="8.1" height="129.04" fill="url(#e-blu)"/><rect x="210.00" y="236.06" width="8.1" height="129.34" fill="url(#e-yel)"/><rect x="218.10" y="236.66" width="8.1" height="128.74" fill="url(#e-blu)"/><rect x="268.00" y="237.27" width="8.1" height="128.13" fill="url(#e-yel)"/><rect x="276.10" y="237.27" width="8.1" height="128.13" fill="url(#e-blu)"/><path d="M66.95 221.55H71.15M69.05 221.55V233.04M66.95 233.04H71.15" stroke="#2a2a2a" stroke-width="0.85" fill="none"/><path d="M75.05 223.21H79.25M77.15 223.21V234.70M75.05 234.70H79.25" stroke="#2a2a2a" stroke-width="0.85" fill="none"/><path d="M95.95 228.96H100.15M98.05 228.96V236.51M95.95 236.51H100.15" stroke="#2a2a2a" stroke-width="0.85" fill="none"/><path d="M104.05 231.22H108.25M106.15 231.22V238.78M104.05 238.78H108.25" stroke="#2a2a2a" stroke-width="0.85" fill="none"/><path d="M153.95 229.41H158.15M156.05 229.41V240.59M153.95 240.59H158.15" stroke="#2a2a2a" stroke-width="0.85" fill="none"/><path d="M162.05 231.37H166.25M164.15 231.37V241.35M162.05 241.35H166.25" stroke="#2a2a2a" stroke-width="0.85" fill="none"/><path d="M211.95 230.92H216.15M214.05 230.92V241.20M211.95 241.20H216.15" stroke="#2a2a2a" stroke-width="0.85" fill="none"/><path d="M220.05 231.98H224.25M222.15 231.98V241.35M220.05 241.35H224.25" stroke="#2a2a2a" stroke-width="0.85" fill="none"/><path d="M269.95 232.43H274.15M272.05 232.43V242.10M269.95 242.10H274.15" stroke="#2a2a2a" stroke-width="0.85" fill="none"/><path d="M278.05 233.49H282.25M280.15 233.49V241.04M278.05 241.04H282.25" stroke="#2a2a2a" stroke-width="0.85" fill="none"/><path d="M44.1 269.8 L44.5 257.5" stroke="#fbb522" stroke-width="1.4" fill="none"/><path d="M44.60 257.20 L45.20 256.53 L46.20 256.46 L47.20 255.74 L48.20 255.67 L49.20 255.30 L50.20 254.14 L51.20 253.81 L52.20 254.70 L53.20 253.63 L54.20 253.34 L55.20 254.16 L56.20 253.25 L57.20 253.59 L58.20 252.91 L59.20 252.97 L60.20 252.19 L61.20 252.77 L62.20 253.00 L63.20 252.41 L64.20 252.62 L65.20 252.42 L66.20 251.49 L67.20 252.39 L68.20 252.07 L69.20 251.59 L70.20 251.14 L71.20 252.29 L72.20 251.72 L73.20 252.04 L74.20 252.25 L75.20 252.00 L76.20 252.27 L77.20 251.51 L78.20 252.06 L79.20 251.54 L80.20 252.20 L81.20 252.08 L82.20 250.95 L83.20 250.96 L84.20 251.04 L85.20 252.04 L86.20 251.26 L87.20 251.49 L88.20 250.99 L89.20 251.24 L90.20 251.03 L91.20 250.94 L92.20 251.23 L93.20 251.19 L94.20 251.60 L95.20 251.25 L96.20 251.55 L97.20 251.41 L98.20 251.56 L99.20 251.07 L100.20 250.33 L101.20 251.30 L102.20 251.45 L103.20 251.37 L104.20 250.90 L105.20 251.10 L106.20 250.40 L107.20 251.26 L108.20 250.90 L109.20 250.50 L110.20 250.20 L111.20 251.34 L112.20 251.57 L113.20 250.35 L114.20 251.39 L115.20 250.88 L116.20 250.56 L117.20 250.80 L118.20 251.50 L119.20 251.69 L120.20 250.55 L121.20 251.28 L122.20 250.41 L123.20 251.28 L124.20 250.67 L125.20 251.37 L126.20 251.44 L127.20 250.70 L128.20 251.32 L129.20 250.29 L130.20 249.90 L131.20 250.59 L132.20 249.76 L133.20 249.95 L134.20 250.20 L135.20 250.45 L136.20 249.77 L137.20 249.57 L138.20 250.69 L139.20 249.87 L140.20 250.73 L141.20 250.61 L142.20 249.84 L143.20 249.92 L144.20 249.96 L145.20 250.09 L146.20 249.99 L147.20 249.89 L148.20 249.94 L149.20 250.35 L150.20 249.70 L151.20 249.53 L152.20 249.88 L153.20 249.14 L154.20 249.17 L155.20 250.06 L156.20 249.36 L157.20 249.34 L158.20 248.52 L159.20 249.03 L160.20 249.22 L161.20 248.46 L162.20 249.33 L163.20 249.38 L164.20 248.61 L165.20 249.43 L166.20 249.24 L167.20 249.57 L168.20 249.14 L169.20 249.67 L170.20 249.72 L171.20 248.67 L172.20 248.67 L173.20 249.49 L174.20 249.84 L175.20 248.79 L176.20 249.03 L177.20 249.17 L178.20 248.74 L179.20 248.75 L180.20 248.65 L181.20 248.80 L182.20 249.19 L183.20 248.84 L184.20 249.02 L185.20 249.65 L186.20 248.67 L187.20 249.50 L188.20 249.80 L189.20 249.28 L190.20 249.23 L191.20 250.12 L192.20 249.41 L193.20 249.42 L194.20 249.85 L195.20 250.29 L196.20 249.54 L197.20 249.93 L198.20 250.02 L199.20 250.80 L200.20 250.32 L201.20 250.96 L202.20 250.05 L203.20 250.34 L204.20 250.83 L205.20 251.22 L206.20 250.66 L207.20 250.40 L208.20 250.31 L209.20 250.93 L210.20 250.51 L211.20 251.43 L212.20 251.52 L213.20 250.66 L214.20 250.85 L215.20 251.64 L216.20 251.47 L217.20 251.76 L218.20 251.18 L219.20 250.93 L220.20 251.22 L221.20 251.98 L222.20 251.31 L223.20 251.48 L224.20 251.64 L225.20 251.71 L226.20 251.81 L227.20 252.64 L228.20 251.68 L229.20 251.58 L230.20 253.01 L231.20 253.03 L232.20 253.30 L233.20 252.64 L234.20 253.47 L235.20 253.55 L236.20 252.68 L237.20 253.53 L238.20 253.77 L239.20 253.64 L240.20 253.55 L241.20 253.34 L242.20 253.53 L243.20 253.48 L244.20 253.37 L245.20 254.21 L246.20 253.90 L247.20 254.75 L248.20 253.79 L249.20 255.11 L250.20 254.93 L251.20 255.36 L252.20 255.44 L253.20 255.56 L254.20 255.22 L255.20 254.54 L256.20 255.69 L257.20 255.00 L258.20 255.30 L259.20 255.93 L260.20 255.86 L261.20 255.82 L262.20 256.68 L263.20 256.34 L264.20 256.08 L265.20 256.08 L266.20 257.05 L267.20 256.63 L268.20 257.18 L269.20 256.70 L270.20 256.60 L271.20 257.19 L272.20 257.70 L273.20 256.91 L274.20 257.90 L275.20 258.20 L276.20 258.15 L277.20 258.29 L278.20 257.27 L279.20 258.25 L280.20 258.70 L281.20 257.68 L282.20 258.10 L283.20 258.22 L284.20 258.70" stroke="#fbb522" stroke-width="2.8" fill="none" stroke-linejoin="round"/><g fill="none" stroke="#ffd870" stroke-width="0.5" opacity="0.8"><circle cx="46.20" cy="256.37" r="0.7"/><circle cx="48.20" cy="255.63" r="0.7"/><circle cx="50.20" cy="254.47" r="0.7"/><circle cx="52.20" cy="254.10" r="0.7"/><circle cx="54.20" cy="252.80" r="0.7"/><circle cx="56.20" cy="252.80" r="0.7"/><circle cx="58.20" cy="252.46" r="0.7"/><circle cx="60.20" cy="251.67" r="0.7"/><circle cx="62.20" cy="253.56" r="0.7"/><circle cx="64.20" cy="253.04" r="0.7"/><circle cx="66.20" cy="251.00" r="0.7"/><circle cx="68.20" cy="252.07" r="0.7"/><circle cx="70.20" cy="250.92" r="0.7"/><circle cx="72.20" cy="251.50" r="0.7"/><circle cx="74.20" cy="252.07" r="0.7"/><circle cx="76.20" cy="252.44" r="0.7"/><circle cx="78.20" cy="252.16" r="0.7"/><circle cx="80.20" cy="252.03" r="0.7"/><circle cx="82.20" cy="250.58" r="0.7"/><circle cx="84.20" cy="250.83" r="0.7"/><circle cx="86.20" cy="250.81" r="0.7"/><circle cx="88.20" cy="251.06" r="0.7"/><circle cx="90.20" cy="251.29" r="0.7"/><circle cx="92.20" cy="251.09" r="0.7"/><circle cx="94.20" cy="251.09" r="0.7"/><circle cx="96.20" cy="251.17" r="0.7"/><circle cx="98.20" cy="251.41" r="0.7"/><circle cx="100.20" cy="250.45" r="0.7"/><circle cx="102.20" cy="251.79" r="0.7"/><circle cx="104.20" cy="250.75" r="0.7"/><circle cx="106.20" cy="250.76" r="0.7"/><circle cx="108.20" cy="251.05" r="0.7"/><circle cx="110.20" cy="250.11" r="0.7"/><circle cx="112.20" cy="251.42" r="0.7"/><circle cx="114.20" cy="251.38" r="0.7"/><circle cx="116.20" cy="250.80" r="0.7"/><circle cx="118.20" cy="251.41" r="0.7"/><circle cx="120.20" cy="250.78" r="0.7"/><circle cx="122.20" cy="250.36" r="0.7"/><circle cx="124.20" cy="250.36" r="0.7"/><circle cx="126.20" cy="251.48" r="0.7"/><circle cx="128.20" cy="251.56" r="0.7"/><circle cx="130.20" cy="249.39" r="0.7"/><circle cx="132.20" cy="249.67" r="0.7"/><circle cx="134.20" cy="250.11" r="0.7"/><circle cx="136.20" cy="250.23" r="0.7"/><circle cx="138.20" cy="251.21" r="0.7"/><circle cx="140.20" cy="250.58" r="0.7"/><circle cx="142.20" cy="250.32" r="0.7"/><circle cx="144.20" cy="250.31" r="0.7"/><circle cx="146.20" cy="249.70" r="0.7"/><circle cx="148.20" cy="249.90" r="0.7"/><circle cx="150.20" cy="249.25" r="0.7"/><circle cx="152.20" cy="250.25" r="0.7"/><circle cx="154.20" cy="249.36" r="0.7"/><circle cx="156.20" cy="249.82" r="0.7"/><circle cx="158.20" cy="248.88" r="0.7"/><circle cx="160.20" cy="249.42" r="0.7"/><circle cx="162.20" cy="249.61" r="0.7"/><circle cx="164.20" cy="248.69" r="0.7"/><circle cx="166.20" cy="248.76" r="0.7"/><circle cx="168.20" cy="249.24" r="0.7"/><circle cx="170.20" cy="249.13" r="0.7"/><circle cx="172.20" cy="248.25" r="0.7"/><circle cx="174.20" cy="250.17" r="0.7"/><circle cx="176.20" cy="248.48" r="0.7"/><circle cx="178.20" cy="248.25" r="0.7"/><circle cx="180.20" cy="248.17" r="0.7"/><circle cx="182.20" cy="249.64" r="0.7"/><circle cx="184.20" cy="248.64" r="0.7"/><circle cx="186.20" cy="248.10" r="0.7"/><circle cx="188.20" cy="250.21" r="0.7"/><circle cx="190.20" cy="248.77" r="0.7"/><circle cx="192.20" cy="249.82" r="0.7"/><circle cx="194.20" cy="250.05" r="0.7"/><circle cx="196.20" cy="249.94" r="0.7"/><circle cx="198.20" cy="250.57" r="0.7"/><circle cx="200.20" cy="250.42" r="0.7"/><circle cx="202.20" cy="250.41" r="0.7"/><circle cx="204.20" cy="250.28" r="0.7"/><circle cx="206.20" cy="250.98" r="0.7"/><circle cx="208.20" cy="250.32" r="0.7"/><circle cx="210.20" cy="250.77" r="0.7"/><circle cx="212.20" cy="251.05" r="0.7"/><circle cx="214.20" cy="251.15" r="0.7"/><circle cx="216.20" cy="251.99" r="0.7"/><circle cx="218.20" cy="250.65" r="0.7"/><circle cx="220.20" cy="251.01" r="0.7"/><circle cx="222.20" cy="251.39" r="0.7"/><circle cx="224.20" cy="252.03" r="0.7"/><circle cx="226.20" cy="251.50" r="0.7"/><circle cx="228.20" cy="251.30" r="0.7"/><circle cx="230.20" cy="252.71" r="0.7"/><circle cx="232.20" cy="253.44" r="0.7"/><circle cx="234.20" cy="253.78" r="0.7"/><circle cx="236.20" cy="252.55" r="0.7"/><circle cx="238.20" cy="253.61" r="0.7"/><circle cx="240.20" cy="253.43" r="0.7"/><circle cx="242.20" cy="253.35" r="0.7"/><circle cx="244.20" cy="253.27" r="0.7"/><circle cx="246.20" cy="253.40" r="0.7"/><circle cx="248.20" cy="253.79" r="0.7"/><circle cx="250.20" cy="255.49" r="0.7"/><circle cx="252.20" cy="255.33" r="0.7"/><circle cx="254.20" cy="255.51" r="0.7"/><circle cx="256.20" cy="255.28" r="0.7"/><circle cx="258.20" cy="255.53" r="0.7"/><circle cx="260.20" cy="256.17" r="0.7"/><circle cx="262.20" cy="256.89" r="0.7"/><circle cx="264.20" cy="256.10" r="0.7"/><circle cx="266.20" cy="257.03" r="0.7"/><circle cx="268.20" cy="257.35" r="0.7"/><circle cx="270.20" cy="257.08" r="0.7"/><circle cx="272.20" cy="257.28" r="0.7"/><circle cx="274.20" cy="257.41" r="0.7"/><circle cx="276.20" cy="258.45" r="0.7"/><circle cx="278.20" cy="257.77" r="0.7"/><circle cx="280.20" cy="258.72" r="0.7"/><circle cx="282.20" cy="258.04" r="0.7"/><circle cx="284.20" cy="258.96" r="0.7"/></g><circle cx="44.1" cy="269.8" r="1.6" fill="#fbb522"/><path d="M44.2 355.8 L44.5 323.5" stroke="#1f86cc" stroke-width="1.2" fill="none"/><path d="M44.60 322.80 L45.20 322.14 L46.20 322.34 L47.20 322.36 L48.20 323.05 L49.20 323.48 L50.20 324.17 L51.20 325.67 L52.20 326.73 L53.20 325.88 L54.20 326.30 L55.20 325.75 L56.20 325.52 L57.20 324.67 L58.20 324.62 L59.20 324.89 L60.20 325.03 L61.20 326.11 L62.20 326.51 L63.20 326.79 L64.20 327.52 L65.20 327.93 L66.20 328.92 L67.20 328.61 L68.20 330.05 L69.20 329.74 L70.20 330.07 L71.20 329.66 L72.20 329.83 L73.20 329.49 L74.20 328.84 L75.20 328.51 L76.20 328.96 L77.20 329.29 L78.20 328.83 L79.20 328.98 L80.20 329.06 L81.20 328.53 L82.20 328.31 L83.20 328.37 L84.20 329.01 L85.20 329.03 L86.20 329.49 L87.20 329.49 L88.20 328.87 L89.20 328.93 L90.20 329.07 L91.20 328.81 L92.20 329.25 L93.20 329.25 L94.20 329.12 L95.20 328.09 L96.20 328.24 L97.20 327.00 L98.20 326.55 L99.20 326.34 L100.20 324.70 L101.20 322.66 L102.20 321.51 L103.20 321.42 L104.20 323.19 L105.20 325.26 L106.20 327.00 L107.20 327.15 L108.20 328.37 L109.20 328.84 L110.20 328.91 L111.20 327.23 L112.20 326.16 L113.20 324.41 L114.20 321.53 L115.20 321.15 L116.20 320.79 L117.20 321.12 L118.20 321.83 L119.20 321.82 L120.20 323.31 L121.20 323.58 L122.20 322.84 L123.20 324.10 L124.20 323.66 L125.20 324.39 L126.20 324.69 L127.20 324.46 L128.20 325.24 L129.20 325.53 L130.20 326.02 L131.20 325.65 L132.20 326.52 L133.20 327.05 L134.20 326.98 L135.20 327.13 L136.20 327.06 L137.20 327.96 L138.20 328.23 L139.20 329.11 L140.20 329.41 L141.20 329.28 L142.20 328.82 L143.20 329.37 L144.20 329.36 L145.20 328.81 L146.20 329.67 L147.20 329.39 L148.20 328.75 L149.20 329.72 L150.20 328.76 L151.20 328.91 L152.20 329.31 L153.20 329.09 L154.20 328.97 L155.20 329.01 L156.20 328.72 L157.20 328.47 L158.20 328.24 L159.20 328.04 L160.20 328.75 L161.20 328.75 L162.20 328.44 L163.20 328.63 L164.20 328.12 L165.20 327.96 L166.20 328.05 L167.20 328.59 L168.20 327.54 L169.20 328.05 L170.20 327.68 L171.20 328.20 L172.20 327.60 L173.20 327.48 L174.20 327.46 L175.20 327.56 L176.20 327.89 L177.20 327.44 L178.20 328.08 L179.20 327.25 L180.20 327.49 L181.20 327.34 L182.20 327.41 L183.20 328.26 L184.20 328.25 L185.20 327.65 L186.20 327.71 L187.20 328.03 L188.20 328.48 L189.20 328.62 L190.20 328.59 L191.20 328.45 L192.20 327.97 L193.20 328.32 L194.20 328.13 L195.20 328.58 L196.20 328.68 L197.20 328.30 L198.20 328.41 L199.20 329.10 L200.20 328.24 L201.20 329.20 L202.20 329.34 L203.20 329.44 L204.20 328.79 L205.20 329.02 L206.20 329.09 L207.20 329.18 L208.20 329.62 L209.20 329.30 L210.20 328.87 L211.20 329.57 L212.20 329.15 L213.20 329.32 L214.20 329.50 L215.20 328.66 L216.20 329.61 L217.20 329.51 L218.20 329.34 L219.20 329.40 L220.20 329.38 L221.20 329.17 L222.20 329.69 L223.20 329.21 L224.20 329.88 L225.20 330.17 L226.20 330.04 L227.20 330.06 L228.20 329.43 L229.20 328.44 L230.20 327.40 L231.20 328.06 L232.20 327.72 L233.20 326.90 L234.20 327.14 L235.20 326.86 L236.20 326.60 L237.20 327.07 L238.20 327.46 L239.20 326.65 L240.20 327.32 L241.20 327.47 L242.20 327.17 L243.20 328.40 L244.20 328.46 L245.20 329.22 L246.20 329.23 L247.20 329.09 L248.20 328.45 L249.20 328.83 L250.20 328.82 L251.20 328.57 L252.20 327.84 L253.20 327.83 L254.20 327.10 L255.20 326.25 L256.20 325.77 L257.20 325.41 L258.20 325.63 L259.20 325.85 L260.20 326.52 L261.20 327.03 L262.20 327.08 L263.20 327.13 L264.20 327.59 L265.20 327.37 L266.20 327.74 L267.20 328.28 L268.20 328.04 L269.20 327.97 L270.20 329.01 L271.20 328.97 L272.20 328.71 L273.20 328.89 L274.20 329.25 L275.20 329.50 L276.20 329.22 L277.20 329.13 L278.20 329.54 L279.20 330.40 L280.20 329.79 L281.20 330.23 L282.20 329.98" stroke="#1f86cc" stroke-width="2.7" fill="none" stroke-linejoin="round"/><path d="M44.60 322.80 L45.20 322.14 L46.20 322.34 L47.20 322.36 L48.20 323.05 L49.20 323.48 L50.20 324.17 L51.20 325.67 L52.20 326.73 L53.20 325.88 L54.20 326.30 L55.20 325.75 L56.20 325.52 L57.20 324.67 L58.20 324.62 L59.20 324.89 L60.20 325.03 L61.20 326.11 L62.20 326.51 L63.20 326.79 L64.20 327.52 L65.20 327.93 L66.20 328.92 L67.20 328.61 L68.20 330.05 L69.20 329.74 L70.20 330.07 L71.20 329.66 L72.20 329.83 L73.20 329.49 L74.20 328.84 L75.20 328.51 L76.20 328.96 L77.20 329.29 L78.20 328.83 L79.20 328.98 L80.20 329.06 L81.20 328.53 L82.20 328.31 L83.20 328.37 L84.20 329.01 L85.20 329.03 L86.20 329.49 L87.20 329.49 L88.20 328.87 L89.20 328.93 L90.20 329.07 L91.20 328.81 L92.20 329.25 L93.20 329.25 L94.20 329.12 L95.20 328.09 L96.20 328.24 L97.20 327.00 L98.20 326.55 L99.20 326.34 L100.20 324.70 L101.20 322.66 L102.20 321.51 L103.20 321.42 L104.20 323.19 L105.20 325.26 L106.20 327.00 L107.20 327.15 L108.20 328.37 L109.20 328.84 L110.20 328.91 L111.20 327.23 L112.20 326.16 L113.20 324.41 L114.20 321.53 L115.20 321.15 L116.20 320.79 L117.20 321.12 L118.20 321.83 L119.20 321.82 L120.20 323.31 L121.20 323.58 L122.20 322.84 L123.20 324.10 L124.20 323.66 L125.20 324.39 L126.20 324.69 L127.20 324.46 L128.20 325.24 L129.20 325.53 L130.20 326.02 L131.20 325.65 L132.20 326.52 L133.20 327.05 L134.20 326.98 L135.20 327.13 L136.20 327.06 L137.20 327.96 L138.20 328.23 L139.20 329.11 L140.20 329.41 L141.20 329.28 L142.20 328.82 L143.20 329.37 L144.20 329.36 L145.20 328.81 L146.20 329.67 L147.20 329.39 L148.20 328.75 L149.20 329.72 L150.20 328.76 L151.20 328.91 L152.20 329.31 L153.20 329.09 L154.20 328.97 L155.20 329.01 L156.20 328.72 L157.20 328.47 L158.20 328.24 L159.20 328.04 L160.20 328.75 L161.20 328.75 L162.20 328.44 L163.20 328.63 L164.20 328.12 L165.20 327.96 L166.20 328.05 L167.20 328.59 L168.20 327.54 L169.20 328.05 L170.20 327.68 L171.20 328.20 L172.20 327.60 L173.20 327.48 L174.20 327.46 L175.20 327.56 L176.20 327.89 L177.20 327.44 L178.20 328.08 L179.20 327.25 L180.20 327.49 L181.20 327.34 L182.20 327.41 L183.20 328.26 L184.20 328.25 L185.20 327.65 L186.20 327.71 L187.20 328.03 L188.20 328.48 L189.20 328.62 L190.20 328.59 L191.20 328.45 L192.20 327.97 L193.20 328.32 L194.20 328.13 L195.20 328.58 L196.20 328.68 L197.20 328.30 L198.20 328.41 L199.20 329.10 L200.20 328.24 L201.20 329.20 L202.20 329.34 L203.20 329.44 L204.20 328.79 L205.20 329.02 L206.20 329.09 L207.20 329.18 L208.20 329.62 L209.20 329.30 L210.20 328.87 L211.20 329.57 L212.20 329.15 L213.20 329.32 L214.20 329.50 L215.20 328.66 L216.20 329.61 L217.20 329.51 L218.20 329.34 L219.20 329.40 L220.20 329.38 L221.20 329.17 L222.20 329.69 L223.20 329.21 L224.20 329.88 L225.20 330.17 L226.20 330.04 L227.20 330.06 L228.20 329.43 L229.20 328.44 L230.20 327.40 L231.20 328.06 L232.20 327.72 L233.20 326.90 L234.20 327.14 L235.20 326.86 L236.20 326.60 L237.20 327.07 L238.20 327.46 L239.20 326.65 L240.20 327.32 L241.20 327.47 L242.20 327.17 L243.20 328.40 L244.20 328.46 L245.20 329.22 L246.20 329.23 L247.20 329.09 L248.20 328.45 L249.20 328.83 L250.20 328.82 L251.20 328.57 L252.20 327.84 L253.20 327.83 L254.20 327.10 L255.20 326.25 L256.20 325.77 L257.20 325.41 L258.20 325.63 L259.20 325.85 L260.20 326.52 L261.20 327.03 L262.20 327.08 L263.20 327.13 L264.20 327.59 L265.20 327.37 L266.20 327.74 L267.20 328.28 L268.20 328.04 L269.20 327.97 L270.20 329.01 L271.20 328.97 L272.20 328.71 L273.20 328.89 L274.20 329.25 L275.20 329.50 L276.20 329.22 L277.20 329.13 L278.20 329.54 L279.20 330.40 L280.20 329.79 L281.20 330.23 L282.20 329.98" stroke="#6fb4e4" stroke-width="0.8" fill="none" stroke-linejoin="round" opacity="0.8"/><path d="M78.9 329V334.5" stroke="#1f86cc" stroke-width="1"/><circle cx="44.1" cy="355.8" r="1.6" fill="#1f86cc"/><path d="M41.4 214.3H285.5V365.4H41.4Z" stroke="#3c3c3c" stroke-width="0.9" fill="none"/><path d="M35.5 272.2L47 270.0L47 276.0L35.5 278.2Z" fill="#fff"/><path d="M35.5 274.9L47 271.8M35.5 278.0L47 274.9" stroke="#3c3c3c" stroke-width="0.9"/><path d="M36.40 214.30H41.4" stroke="#3c3c3c" stroke-width="0.8"/><path d="M38.90 233.00H41.4" stroke="#3c3c3c" stroke-width="0.8"/><path d="M36.40 251.70H41.4" stroke="#3c3c3c" stroke-width="0.8"/><path d="M38.90 270.40H41.4" stroke="#3c3c3c" stroke-width="0.8"/><path d="M38.90 287.10H41.4" stroke="#3c3c3c" stroke-width="0.8"/><path d="M36.40 298.30H41.4" stroke="#3c3c3c" stroke-width="0.8"/><path d="M38.90 309.50H41.4" stroke="#3c3c3c" stroke-width="0.8"/><path d="M36.40 320.70H41.4" stroke="#3c3c3c" stroke-width="0.8"/><path d="M38.90 331.90H41.4" stroke="#3c3c3c" stroke-width="0.8"/><path d="M36.40 343.10H41.4" stroke="#3c3c3c" stroke-width="0.8"/><path d="M38.90 354.30H41.4" stroke="#3c3c3c" stroke-width="0.8"/><path d="M36.40 365.50H41.4" stroke="#3c3c3c" stroke-width="0.8"/><text x="34.60" y="217.20" text-anchor="end" font-size="8.2" fill="#1a1a1a" stroke="#1a1a1a" stroke-width="0.2">0</text><text x="34.60" y="254.60" text-anchor="end" font-size="8.2" fill="#1a1a1a" stroke="#1a1a1a" stroke-width="0.2">−250</text><text x="34.60" y="301.20" text-anchor="end" font-size="8.2" fill="#1a1a1a" stroke="#1a1a1a" stroke-width="0.2">−1250</text><text x="34.60" y="323.60" text-anchor="end" font-size="8.2" fill="#1a1a1a" stroke="#1a1a1a" stroke-width="0.2">−1500</text><text x="34.60" y="346.00" text-anchor="end" font-size="8.2" fill="#1a1a1a" stroke="#1a1a1a" stroke-width="0.2">−1750</text><text x="34.60" y="368.40" text-anchor="end" font-size="8.2" fill="#1a1a1a" stroke="#1a1a1a" stroke-width="0.2">−2000</text><path d="M285.5 365.40H290.50" stroke="#3c3c3c" stroke-width="0.8"/><text x="292.50" y="368.30" font-size="8.2" fill="#1a1a1a" stroke="#1a1a1a" stroke-width="0.2">0</text><path d="M285.5 350.29H288.00" stroke="#3c3c3c" stroke-width="0.8"/><path d="M285.5 335.18H290.50" stroke="#3c3c3c" stroke-width="0.8"/><text x="292.50" y="338.08" font-size="8.2" fill="#1a1a1a" stroke="#1a1a1a" stroke-width="0.2">20</text><path d="M285.5 320.07H288.00" stroke="#3c3c3c" stroke-width="0.8"/><path d="M285.5 304.96H290.50" stroke="#3c3c3c" stroke-width="0.8"/><text x="292.50" y="307.86" font-size="8.2" fill="#1a1a1a" stroke="#1a1a1a" stroke-width="0.2">40</text><path d="M285.5 289.85H288.00" stroke="#3c3c3c" stroke-width="0.8"/><path d="M285.5 274.74H290.50" stroke="#3c3c3c" stroke-width="0.8"/><text x="292.50" y="277.64" font-size="8.2" fill="#1a1a1a" stroke="#1a1a1a" stroke-width="0.2">60</text><path d="M285.5 259.63H288.00" stroke="#3c3c3c" stroke-width="0.8"/><path d="M285.5 244.52H290.50" stroke="#3c3c3c" stroke-width="0.8"/><text x="292.50" y="247.42" font-size="8.2" fill="#1a1a1a" stroke="#1a1a1a" stroke-width="0.2">80</text><path d="M285.5 229.41H288.00" stroke="#3c3c3c" stroke-width="0.8"/><path d="M285.5 214.30H290.50" stroke="#3c3c3c" stroke-width="0.8"/><text x="292.50" y="217.20" font-size="8.2" fill="#1a1a1a" stroke="#1a1a1a" stroke-width="0.2">100</text><path d="M44.40 365.4V370.40" stroke="#3c3c3c" stroke-width="0.8"/><text x="44.40" y="379.6" text-anchor="middle" font-size="8.2" fill="#1a1a1a" stroke="#1a1a1a" stroke-width="0.2">0</text><path d="M73.40 365.4V367.90" stroke="#3c3c3c" stroke-width="0.8"/><path d="M102.40 365.4V370.40" stroke="#3c3c3c" stroke-width="0.8"/><text x="102.40" y="379.6" text-anchor="middle" font-size="8.2" fill="#1a1a1a" stroke="#1a1a1a" stroke-width="0.2">2</text><path d="M131.40 365.4V367.90" stroke="#3c3c3c" stroke-width="0.8"/><path d="M160.40 365.4V370.40" stroke="#3c3c3c" stroke-width="0.8"/><text x="160.40" y="379.6" text-anchor="middle" font-size="8.2" fill="#1a1a1a" stroke="#1a1a1a" stroke-width="0.2">4</text><path d="M189.40 365.4V367.90" stroke="#3c3c3c" stroke-width="0.8"/><path d="M218.40 365.4V370.40" stroke="#3c3c3c" stroke-width="0.8"/><text x="218.40" y="379.6" text-anchor="middle" font-size="8.2" fill="#1a1a1a" stroke="#1a1a1a" stroke-width="0.2">6</text><path d="M247.40 365.4V367.90" stroke="#3c3c3c" stroke-width="0.8"/><path d="M276.40 365.4V370.40" stroke="#3c3c3c" stroke-width="0.8"/><text x="276.40" y="379.6" text-anchor="middle" font-size="8.2" fill="#1a1a1a" stroke="#1a1a1a" stroke-width="0.2">8</text><text x="163.5" y="394.6" text-anchor="middle" font-size="9.3" font-weight="bold" fill="#1a1a1a" stroke="#1a1a1a" stroke-width="0.12">Time (h)</text><text transform="translate(8.6,290) rotate(-90)" text-anchor="middle" font-size="9.3" font-weight="bold" fill="#1a1a1a" stroke="#1a1a1a" stroke-width="0.12">Ccurrent (mA)</text><text transform="translate(306.2,290.4) rotate(90)" text-anchor="middle" font-size="9.5" font-weight="bold" fill="#1a1a1a" stroke="#1a1a1a" stroke-width="0.12">Faradaic efficiency (%)</text><text x="167.2" y="225.4" font-size="7.2" fill="#1a1a1a" stroke="#1a1a1a" stroke-width="0.2">FE</text><text class="nb" x="177.4" y="227.8" font-size="5.2" fill="#333">formate</text><rect x="202.1" y="219.2" width="12.9" height="7.7" fill="url(#e-yel)"/><text class="nb" x="218.4" y="226.3" font-size="7.3" fill="#3a7fd6">4 cm<tspan dy="-3.0" font-size="5">2</tspan></text><rect x="243.0" y="219.2" width="12.6" height="7.7" fill="url(#e-blu)"/><text class="nb" x="258.7" y="226.3" font-size="7.5" fill="#3a7fd6">25 cm<tspan dy="-3.0" font-size="5">2</tspan></text><path d="M228.3 268.5H241.6" stroke="#f6b326" stroke-width="1.2"/><circle cx="235" cy="268.5" r="1.3" fill="#fcd060" stroke="#f6b326" stroke-width="0.8"/><text class="nb" x="243.1" y="271.0" font-size="7.4" fill="#f6b020">4 cm<tspan dy="-3.4" font-size="5">2</tspan></text><path d="M228.3 314.6H241.6" stroke="#2a8bc8" stroke-width="1.2"/><circle cx="235" cy="314.6" r="1.3" fill="#70b4e0" stroke="#2a8bc8" stroke-width="0.8"/><text class="nb" x="243.5" y="317.1" font-size="7.4" fill="#2a8bc8">25 cm<tspan dy="-3.4" font-size="5">2</tspan></text><path d="M369.6 364.5 L369.6 336" stroke="#2a8bc8" stroke-width="0.9"/><path d="M369.6 337.5 L369.7 328" stroke="#111" stroke-width="1.3"/><circle cx="369.7" cy="345.2" r="0.7" fill="#111"/><circle cx="369.7" cy="357" r="0.6" fill="#111"/><path d="M370 329.5 L372 327.6 L374 327.2 L375 328.3" stroke="#111" stroke-width="1.6" fill="none"/><path d="M369.80 328.10 L369.80 328.30 L370.40 327.17 L371.00 326.50 L371.00 326.43 L371.60 325.79 L372.20 325.21 L372.50 325.30 L372.80 324.61 L373.40 323.81 L374.00 323.20 L374.00 323.19 L374.60 322.59 L375.20 322.27 L375.80 322.26 L376.00 322.20 L376.40 322.00 L377.00 321.99 L377.60 321.33 L378.00 321.50 L378.20 321.36 L378.80 321.12 L379.40 320.63 L380.00 321.05 L380.60 320.30 L381.20 319.98 L381.80 320.02 L382.40 319.57 L383.00 319.66 L383.60 319.23 L384.20 318.85 L384.80 318.56 L385.00 318.80 L385.40 318.82 L386.00 318.29 L386.60 318.43 L387.20 317.99 L387.80 318.10 L388.40 317.45 L389.00 317.20 L389.60 316.99 L390.20 317.16 L390.80 316.82 L391.40 316.41 L392.00 316.30 L392.00 316.02 L392.60 316.35 L393.20 316.46 L393.80 316.12 L394.40 315.62 L395.00 315.56 L395.60 315.52 L396.20 315.49 L396.80 315.32 L397.40 315.25 L398.00 315.58 L398.60 315.67 L399.20 315.10 L399.80 315.56 L400.00 315.20 L400.40 315.18 L401.00 315.41 L401.60 315.49 L402.20 315.51 L402.80 314.87 L403.40 315.06 L404.00 315.27 L404.60 315.51 L405.20 314.91 L405.80 315.06 L406.40 315.44 L407.00 314.93 L407.60 315.12 L408.20 315.08 L408.80 315.33 L409.40 315.50 L410.00 315.20 L410.00 314.97 L410.60 315.34 L411.20 315.30 L411.80 315.34 L412.40 315.11 L413.00 315.34 L413.60 314.91 L414.20 314.92 L414.80 314.75 L415.40 315.11 L416.00 314.87 L416.60 314.69 L417.20 314.58 L417.80 314.94 L418.40 314.83 L419.00 314.87 L419.60 314.61 L420.20 314.65 L420.80 314.38 L421.40 314.74 L422.00 314.23 L422.60 314.50 L423.20 314.68 L423.80 314.59 L424.40 314.15 L425.00 314.40 L425.00 314.22 L425.60 314.62 L426.20 314.45 L426.80 314.59 L427.40 314.56 L428.00 314.24 L428.60 314.53 L429.20 314.40 L429.80 314.09 L430.40 314.09 L431.00 313.86 L431.60 314.07 L432.20 314.43 L432.80 313.81 L433.40 314.11 L434.00 313.77 L434.60 313.72 L435.00 314.00 L435.20 314.10 L435.80 313.82 L436.40 313.68 L437.00 313.76 L437.60 314.10 L438.20 314.06 L438.80 313.66 L439.40 313.81 L440.00 314.33 L440.60 313.80 L441.20 314.04 L441.80 313.94 L442.40 314.20 L443.00 314.07 L443.60 314.20 L444.20 314.02 L444.80 313.78 L445.40 313.77 L446.00 313.71 L446.60 314.23 L447.20 313.73 L447.80 313.67 L448.40 314.33 L449.00 313.79 L449.60 314.28 L450.20 313.71 L450.80 313.98 L451.40 313.81 L452.00 314.23 L452.60 314.08 L453.20 314.10 L453.80 314.18 L454.40 314.26 L455.00 313.89 L455.60 314.07 L456.20 313.96 L456.80 313.73 L457.40 314.23 L458.00 314.07 L458.60 314.22 L459.20 313.79 L459.80 314.03 L460.00 314.00 L460.40 313.96 L461.00 314.13 L461.60 313.66 L462.20 313.83 L462.80 313.91 L463.40 313.61 L464.00 313.93 L464.60 314.04 L465.20 313.81 L465.80 313.95 L466.40 313.90 L467.00 313.61 L467.60 313.69 L468.20 314.13 L468.80 313.65 L469.40 313.70 L470.00 313.44 L470.60 313.52 L471.20 313.47 L471.80 313.99 L472.40 313.83 L473.00 313.92 L473.60 313.98 L474.20 313.70 L474.80 313.91 L475.00 313.60 L475.40 313.61 L476.00 313.50 L476.60 313.85 L477.20 313.79 L477.80 313.80 L478.40 313.45 L479.00 313.63 L479.60 313.35 L480.20 313.74 L480.80 313.66 L481.40 313.20 L482.00 313.62 L482.60 313.08 L483.20 312.99 L483.80 313.40 L484.40 313.08 L485.00 313.21 L485.60 313.27 L486.20 312.83 L486.80 313.30 L487.40 312.95 L488.00 313.03 L488.60 312.95 L489.20 313.20 L489.80 313.18 L490.00 313.00 L490.40 312.85 L491.00 312.72 L491.60 312.86 L492.20 312.94 L492.80 312.70 L493.40 312.76 L494.00 313.18 L494.60 313.14 L495.20 313.33 L495.80 313.34 L496.40 313.26 L497.00 312.91 L497.60 312.76 L498.20 312.87 L498.80 312.97 L499.40 313.02 L500.00 313.03 L500.60 312.90 L501.20 313.25 L501.80 312.85 L502.40 312.97 L503.00 313.27 L503.60 313.21 L504.20 312.86 L504.80 312.82 L505.40 313.21 L506.00 312.66 L506.60 312.74 L507.20 313.02 L507.80 313.03 L508.40 312.77 L509.00 312.69 L509.60 312.79 L510.20 313.19 L510.80 312.98 L511.40 313.34 L512.00 313.20 L512.60 313.34 L513.20 312.67 L513.80 312.78 L514.40 312.66 L515.00 313.00 L515.00 312.95 L515.60 312.90 L516.20 312.72 L516.80 313.08 L517.40 312.78 L518.00 312.95 L518.60 312.93 L519.20 313.33 L519.80 313.08 L520.40 312.99 L521.00 312.85 L521.60 313.14 L522.00 313.20 L522.20 313.32 L522.80 313.45 L523.40 313.71 L524.00 313.74 L524.60 313.44 L525.20 313.46 L525.80 313.99 L526.40 314.11 L527.00 314.00 L527.00 314.01 L527.60 314.23 L528.20 314.04 L528.80 313.85 L529.40 313.77 L530.00 313.66 L530.60 314.10 L531.20 314.28 L531.80 314.28 L532.40 313.98 L533.00 314.12 L533.60 314.30 L534.20 314.22 L534.80 314.07 L535.40 313.94 L536.00 314.01 L536.60 313.77 L537.20 313.78 L537.80 314.13 L538.40 314.34 L539.00 314.03 L539.60 313.94 L540.00 314.00 L540.20 313.88 L540.80 313.89 L541.40 314.07 L542.00 313.77 L542.60 314.06 L543.20 313.44 L543.80 313.49 L544.40 313.58 L545.00 313.44 L545.60 313.69 L546.20 313.61 L546.80 313.62 L547.40 313.34 L548.00 312.87 L548.60 313.19 L549.20 313.11 L549.80 313.01 L550.00 313.00 L550.40 312.81 L551.00 313.06 L551.60 313.14 L552.20 312.52 L552.80 312.87 L553.40 312.60 L554.00 312.65 L554.60 312.86 L555.20 312.85 L555.80 312.58 L556.40 312.21 L557.00 312.66 L557.60 312.09 L558.20 312.18 L558.80 312.44 L559.40 312.03 L560.00 312.10 L560.00 311.94 L560.60 312.35 L561.20 312.28 L561.80 311.78 L562.40 311.77 L563.00 311.63 L563.60 311.46 L564.20 311.48 L564.80 311.93 L565.40 311.24 L566.00 311.28 L566.60 311.20 L567.20 311.05 L567.80 311.30 L568.40 311.39 L569.00 311.39 L569.50 311.10 L569.60 311.54 L570.20 313.77 L570.50 314.60 L570.80 314.20 L571.40 314.30 L572.00 314.67 L572.60 313.94 L573.20 313.98 L573.80 314.03 L574.40 313.78 L575.00 313.87 L575.60 313.42 L576.20 313.46 L576.80 313.86 L577.40 313.19 L578.00 313.62 L578.60 313.01 L579.20 313.48 L579.80 313.16 L580.00 313.00 L580.40 313.06 L581.00 312.64 L581.60 312.51 L582.20 312.94 L582.80 312.47 L583.40 312.41 L584.00 312.79 L584.60 312.76 L585.20 312.11 L585.80 312.68 L586.40 312.32 L587.00 312.15 L587.60 311.89 L588.20 312.02 L588.80 312.37 L589.40 311.81 L590.00 311.90 L590.00 311.31 L590.60 311.15 L591.20 310.94 L591.80 311.12 L592.40 311.84 L593.00 310.32 L593.60 310.33 L594.20 311.34 L594.80 311.26 L595.00 310.40 L595.40 311.03 L596.00 309.66 L596.60 309.63 L596.80 309.80 L597.20 318.04 L597.30 319.20 L597.80 313.50 L597.80 313.48 L598.40 313.63 L599.00 312.82 L599.60 312.16 L600.00 312.80 L600.20 312.50 L600.80 312.97 L601.40 312.86 L602.00 312.35 L602.60 312.01 L603.20 311.97 L603.80 311.64 L604.40 311.62 L605.00 311.40 L605.00 311.93 L605.60 310.98 L606.20 311.67 L606.80 312.27 L607.40 312.20 L608.00 311.19 L608.60 312.50 L609.20 312.36 L609.80 311.35 L610.00 311.90 L610.40 311.34 L611.00 310.96 L611.60 310.45 L612.20 311.65 L612.80 310.47 L613.40 310.93 L614.00 309.44 L614.60 309.01 L615.00 309.60 L615.20 310.24 L615.80 310.28 L616.40 310.75 L617.00 310.42 L617.60 310.32 L618.20 310.86 L618.80 309.94 L619.40 310.81 L620.00 310.90 L620.00 310.81 L620.60 310.66 L621.20 311.71 L621.80 311.59 L622.40 312.21 L623.00 312.32 L623.60 312.55 L624.20 312.94 L624.80 313.65 L625.00 313.60 L625.40 314.30 L626.00 314.14 L626.60 313.92 L627.20 313.78 L627.80 312.81 L628.40 313.82 L629.00 312.59 L629.60 312.26 L630.00 312.80 L630.20 312.78 L630.80 313.09 L631.40 312.41 L632.00 312.83 L632.60 312.19 L633.20 313.23 L633.80 312.34 L634.40 312.32 L635.00 312.30 L635.00 312.35 L635.60 312.73 L636.20 312.74 L636.80 311.84 L637.40 311.53 L638.00 311.65 L638.60 310.60 L639.20 311.00 L639.80 311.51 L640.00 310.90 L640.40 311.42 L641.00 310.39 L641.60 311.79 L642.20 311.15 L642.80 312.23 L643.40 311.37 L644.00 311.24 L644.60 311.90 L645.00 311.90 L645.20 312.45 L645.80 311.52 L646.40 312.01 L647.00 311.56 L647.60 310.79 L648.20 310.49 L648.80 310.62 L649.40 310.24 L650.00 310.20 L650.00 310.00 L650.60 311.14 L651.20 312.20 L651.80 312.30 L651.80 312.44 L652.30 318.80" stroke="#111" stroke-width="2.9" fill="none" stroke-linejoin="round"/><circle cx="374.58" cy="228.12" r="2.4" fill="url(#dot)"/><circle cx="380.26" cy="226.46" r="2.4" fill="url(#dot)"/><circle cx="385.94" cy="228.12" r="2.4" fill="url(#dot)"/><circle cx="391.62" cy="228.42" r="2.4" fill="url(#dot)"/><circle cx="402.98" cy="235.20" r="2.4" fill="url(#dot)"/><circle cx="437.06" cy="234.45" r="2.4" fill="url(#dot)"/><circle cx="448.42" cy="232.19" r="2.4" fill="url(#dot)"/><circle cx="459.78" cy="230.08" r="2.4" fill="url(#dot)"/><circle cx="471.14" cy="229.62" r="2.4" fill="url(#dot)"/><circle cx="505.22" cy="234.90" r="2.4" fill="url(#dot)"/><circle cx="516.58" cy="233.39" r="2.4" fill="url(#dot)"/><circle cx="527.94" cy="231.28" r="2.4" fill="url(#dot)"/><circle cx="539.30" cy="230.08" r="2.4" fill="url(#dot)"/><circle cx="573.38" cy="235.50" r="2.4" fill="url(#dot)"/><circle cx="584.74" cy="233.54" r="2.4" fill="url(#dot)"/><circle cx="596.10" cy="230.68" r="2.4" fill="url(#dot)"/><circle cx="607.46" cy="233.09" r="2.4" fill="url(#dot)"/><circle cx="641.54" cy="229.17" r="2.4" fill="url(#dot)"/><path d="M369.0 213.8H653.2V364.5H369.0Z" stroke="#555" stroke-width="0.9" fill="none"/><path d="M364.20 213.80H369.0" stroke="#3c3c3c" stroke-width="0.8"/><text x="363.00" y="216.60" text-anchor="end" font-size="8.0" fill="#1a1a1a" stroke="#1a1a1a" stroke-width="0.2">0</text><path d="M366.60 221.34H369.0" stroke="#3c3c3c" stroke-width="0.8"/><path d="M364.20 228.87H369.0" stroke="#3c3c3c" stroke-width="0.8"/><text x="363.00" y="231.67" text-anchor="end" font-size="8.0" fill="#1a1a1a" stroke="#1a1a1a" stroke-width="0.2">−250</text><path d="M366.60 236.41H369.0" stroke="#3c3c3c" stroke-width="0.8"/><path d="M364.20 243.94H369.0" stroke="#3c3c3c" stroke-width="0.8"/><text x="363.00" y="246.74" text-anchor="end" font-size="8.0" fill="#1a1a1a" stroke="#1a1a1a" stroke-width="0.2">−500</text><path d="M366.60 251.48H369.0" stroke="#3c3c3c" stroke-width="0.8"/><path d="M364.20 259.01H369.0" stroke="#3c3c3c" stroke-width="0.8"/><text x="363.00" y="261.81" text-anchor="end" font-size="8.0" fill="#1a1a1a" stroke="#1a1a1a" stroke-width="0.2">−750</text><path d="M366.60 266.55H369.0" stroke="#3c3c3c" stroke-width="0.8"/><path d="M364.20 274.08H369.0" stroke="#3c3c3c" stroke-width="0.8"/><text x="363.00" y="276.88" text-anchor="end" font-size="8.0" fill="#1a1a1a" stroke="#1a1a1a" stroke-width="0.2">−1000</text><path d="M366.60 281.62H369.0" stroke="#3c3c3c" stroke-width="0.8"/><path d="M364.20 289.15H369.0" stroke="#3c3c3c" stroke-width="0.8"/><text x="363.00" y="291.95" text-anchor="end" font-size="8.0" fill="#1a1a1a" stroke="#1a1a1a" stroke-width="0.2">−1250</text><path d="M366.60 296.69H369.0" stroke="#3c3c3c" stroke-width="0.8"/><path d="M364.20 304.22H369.0" stroke="#3c3c3c" stroke-width="0.8"/><text x="363.00" y="307.02" text-anchor="end" font-size="8.0" fill="#1a1a1a" stroke="#1a1a1a" stroke-width="0.2">−1500</text><path d="M366.60 311.75H369.0" stroke="#3c3c3c" stroke-width="0.8"/><path d="M364.20 319.29H369.0" stroke="#3c3c3c" stroke-width="0.8"/><text x="363.00" y="322.09" text-anchor="end" font-size="8.0" fill="#1a1a1a" stroke="#1a1a1a" stroke-width="0.2">−1750</text><path d="M366.60 326.83H369.0" stroke="#3c3c3c" stroke-width="0.8"/><path d="M364.20 334.36H369.0" stroke="#3c3c3c" stroke-width="0.8"/><text x="363.00" y="337.16" text-anchor="end" font-size="8.0" fill="#1a1a1a" stroke="#1a1a1a" stroke-width="0.2">−2000</text><path d="M366.60 341.89H369.0" stroke="#3c3c3c" stroke-width="0.8"/><path d="M364.20 349.43H369.0" stroke="#3c3c3c" stroke-width="0.8"/><text x="363.00" y="352.23" text-anchor="end" font-size="8.0" fill="#1a1a1a" stroke="#1a1a1a" stroke-width="0.2">−2250</text><path d="M366.60 356.97H369.0" stroke="#3c3c3c" stroke-width="0.8"/><path d="M364.20 364.50H369.0" stroke="#3c3c3c" stroke-width="0.8"/><text x="363.00" y="367.30" text-anchor="end" font-size="8.0" fill="#1a1a1a" stroke="#1a1a1a" stroke-width="0.2">−2500</text><path d="M653.2 364.50H658.00" stroke="#3c3c3c" stroke-width="0.8"/><text x="660.60" y="367.30" font-size="8.0" fill="#1a1a1a" stroke="#1a1a1a" stroke-width="0.2">0</text><path d="M653.2 349.43H655.60" stroke="#3c3c3c" stroke-width="0.8"/><path d="M653.2 334.36H658.00" stroke="#3c3c3c" stroke-width="0.8"/><text x="660.60" y="337.16" font-size="8.0" fill="#1a1a1a" stroke="#1a1a1a" stroke-width="0.2">20</text><path d="M653.2 319.29H655.60" stroke="#3c3c3c" stroke-width="0.8"/><path d="M653.2 304.22H658.00" stroke="#3c3c3c" stroke-width="0.8"/><text x="660.60" y="307.02" font-size="8.0" fill="#1a1a1a" stroke="#1a1a1a" stroke-width="0.2">40</text><path d="M653.2 289.15H655.60" stroke="#3c3c3c" stroke-width="0.8"/><path d="M653.2 274.08H658.00" stroke="#3c3c3c" stroke-width="0.8"/><text x="660.60" y="276.88" font-size="8.0" fill="#1a1a1a" stroke="#1a1a1a" stroke-width="0.2">60</text><path d="M653.2 259.01H655.60" stroke="#3c3c3c" stroke-width="0.8"/><path d="M653.2 243.94H658.00" stroke="#3c3c3c" stroke-width="0.8"/><text x="660.60" y="246.74" font-size="8.0" fill="#1a1a1a" stroke="#1a1a1a" stroke-width="0.2">80</text><path d="M653.2 228.87H655.60" stroke="#3c3c3c" stroke-width="0.8"/><path d="M653.2 213.80H658.00" stroke="#3c3c3c" stroke-width="0.8"/><text x="660.60" y="216.60" font-size="8.0" fill="#1a1a1a" stroke="#1a1a1a" stroke-width="0.2">100</text><path d="M368.90 364.5V369.50" stroke="#3c3c3c" stroke-width="0.8"/><text x="368.90" y="379.4" text-anchor="middle" font-size="8.0" fill="#1a1a1a" stroke="#1a1a1a" stroke-width="0.2">0</text><path d="M383.10 364.5V367.00" stroke="#3c3c3c" stroke-width="0.8"/><path d="M397.30 364.5V369.50" stroke="#3c3c3c" stroke-width="0.8"/><text x="397.30" y="379.4" text-anchor="middle" font-size="8.0" fill="#1a1a1a" stroke="#1a1a1a" stroke-width="0.2">10</text><path d="M411.50 364.5V367.00" stroke="#3c3c3c" stroke-width="0.8"/><path d="M425.70 364.5V369.50" stroke="#3c3c3c" stroke-width="0.8"/><text x="425.70" y="379.4" text-anchor="middle" font-size="8.0" fill="#1a1a1a" stroke="#1a1a1a" stroke-width="0.2">20</text><path d="M439.90 364.5V367.00" stroke="#3c3c3c" stroke-width="0.8"/><path d="M454.10 364.5V369.50" stroke="#3c3c3c" stroke-width="0.8"/><text x="454.10" y="379.4" text-anchor="middle" font-size="8.0" fill="#1a1a1a" stroke="#1a1a1a" stroke-width="0.2">30</text><path d="M468.30 364.5V367.00" stroke="#3c3c3c" stroke-width="0.8"/><path d="M482.50 364.5V369.50" stroke="#3c3c3c" stroke-width="0.8"/><text x="482.50" y="379.4" text-anchor="middle" font-size="8.0" fill="#1a1a1a" stroke="#1a1a1a" stroke-width="0.2">40</text><path d="M496.70 364.5V367.00" stroke="#3c3c3c" stroke-width="0.8"/><path d="M510.90 364.5V369.50" stroke="#3c3c3c" stroke-width="0.8"/><text x="510.90" y="379.4" text-anchor="middle" font-size="8.0" fill="#1a1a1a" stroke="#1a1a1a" stroke-width="0.2">50</text><path d="M525.10 364.5V367.00" stroke="#3c3c3c" stroke-width="0.8"/><path d="M539.30 364.5V369.50" stroke="#3c3c3c" stroke-width="0.8"/><text x="539.30" y="379.4" text-anchor="middle" font-size="8.0" fill="#1a1a1a" stroke="#1a1a1a" stroke-width="0.2">60</text><path d="M553.50 364.5V367.00" stroke="#3c3c3c" stroke-width="0.8"/><path d="M567.70 364.5V369.50" stroke="#3c3c3c" stroke-width="0.8"/><text x="567.70" y="379.4" text-anchor="middle" font-size="8.0" fill="#1a1a1a" stroke="#1a1a1a" stroke-width="0.2">70</text><path d="M581.90 364.5V367.00" stroke="#3c3c3c" stroke-width="0.8"/><path d="M596.10 364.5V369.50" stroke="#3c3c3c" stroke-width="0.8"/><text x="596.10" y="379.4" text-anchor="middle" font-size="8.0" fill="#1a1a1a" stroke="#1a1a1a" stroke-width="0.2">80</text><path d="M610.30 364.5V367.00" stroke="#3c3c3c" stroke-width="0.8"/><path d="M624.50 364.5V369.50" stroke="#3c3c3c" stroke-width="0.8"/><text x="624.50" y="379.4" text-anchor="middle" font-size="8.0" fill="#1a1a1a" stroke="#1a1a1a" stroke-width="0.2">90</text><path d="M638.70 364.5V367.00" stroke="#3c3c3c" stroke-width="0.8"/><path d="M652.90 364.5V369.50" stroke="#3c3c3c" stroke-width="0.8"/><text x="652.90" y="379.4" text-anchor="middle" font-size="8.0" fill="#1a1a1a" stroke="#1a1a1a" stroke-width="0.2">100</text><text x="510.8" y="394.6" text-anchor="middle" font-size="9.3" font-weight="bold" fill="#1a1a1a" stroke="#1a1a1a" stroke-width="0.12">Time (h)</text><text transform="translate(336.4,289.4) rotate(-90)" text-anchor="middle" font-size="9.3" font-weight="bold" fill="#1a1a1a" stroke="#1a1a1a" stroke-width="0.12">Ccurrent (mA)</text><text transform="translate(674.3,290.0) rotate(90)" text-anchor="middle" font-size="9.5" font-weight="bold" fill="#4cb4f2" stroke="#4cb4f2" stroke-width="0.12">Faradaic efficiency (%)</text></svg></body></html>
